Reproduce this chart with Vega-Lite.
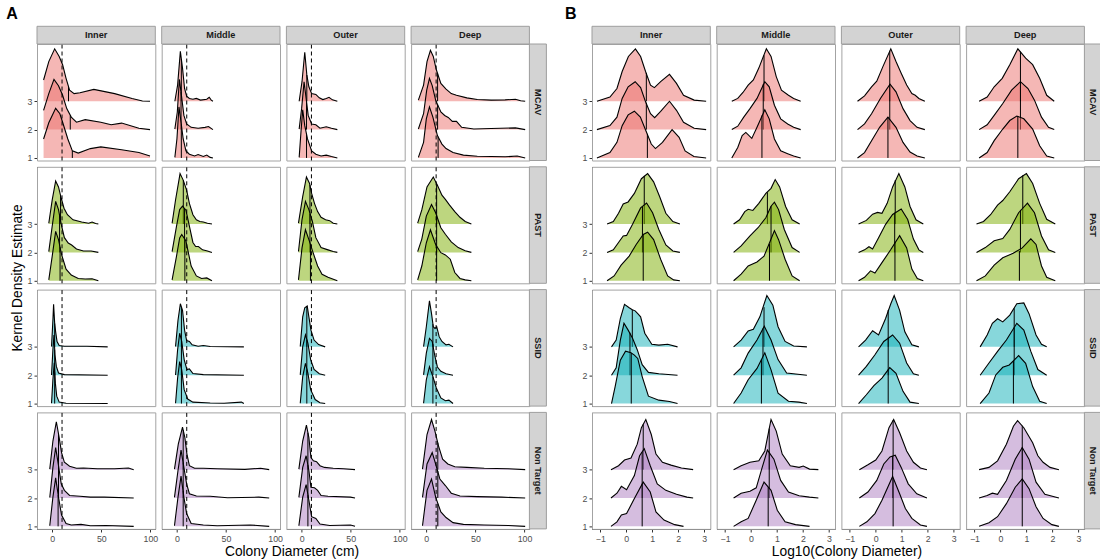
{
"$schema":"https://vega.github.io/schema/vega-lite/v6.json",
"background":"white",
"padding":{"left":6,"top":6,"right":0,"bottom":1},
"config":{"font":"Liberation Sans","mark":{"invalid":null},"view":{"stroke":"#a3a3a3","strokeWidth":1},
"axis":{"grid":false,"domainColor":"#000","domainWidth":1,"tickColor":"#333","tickSize":3,"labelFontSize":8.8,"labelColor":"#4d4d4d","labelPadding":2,"labelFlush":false,"labelOverlap":false,"title":null},
"header":{"labels":false,"titleFontSize":13.8,"titleFontWeight":"normal","titleColor":"#000","titleFont":"Liberation Sans","labelPadding":0}},
"datasets":{
"a":[
{"r":1,"c":1,"g":3,"x":-8.8,"t":3.75},{"r":1,"c":1,"g":3,"x":-3.5,"t":4.4},{"r":1,"c":1,"g":3,"x":2.5,"t":4.85},{"r":1,"c":1,"g":3,"x":7.1,"t":4.58},{"r":1,"c":1,"g":3,"x":10.6,"t":4.29},{"r":1,"c":1,"g":3,"x":14.1,"t":3.81},{"r":1,"c":1,"g":3,"x":17.7,"t":3.39},{"r":1,"c":1,"g":3,"x":22.3,"t":3.27},{"r":1,"c":1,"g":3,"x":28.3,"t":3.3},{"r":1,"c":1,"g":3,"x":42.4,"t":3.42},{"r":1,"c":1,"g":3,"x":63.6,"t":3.27},{"r":1,"c":1,"g":3,"x":81.3,"t":3.1},{"r":1,"c":1,"g":3,"x":91.9,"t":3.01},{"r":1,"c":1,"g":3,"x":99.6,"t":3},
{"r":1,"c":1,"g":3,"x":16.6,"t":3.5,"k":"m"},
{"r":1,"c":1,"g":2,"x":-8.8,"t":2.68},{"r":1,"c":1,"g":2,"x":-3.5,"t":3.27},{"r":1,"c":1,"g":2,"x":1.8,"t":3.77},{"r":1,"c":1,"g":2,"x":6.4,"t":3.55},{"r":1,"c":1,"g":2,"x":10.6,"t":3.21},{"r":1,"c":1,"g":2,"x":14.8,"t":2.74},{"r":1,"c":1,"g":2,"x":19.4,"t":2.44},{"r":1,"c":1,"g":2,"x":24.7,"t":2.26},{"r":1,"c":1,"g":2,"x":33.6,"t":2.35},{"r":1,"c":1,"g":2,"x":49.5,"t":2.26},{"r":1,"c":1,"g":2,"x":60,"t":2.17},{"r":1,"c":1,"g":2,"x":70.7,"t":2.23},{"r":1,"c":1,"g":2,"x":88.3,"t":2.05},{"r":1,"c":1,"g":2,"x":99.6,"t":2},
{"r":1,"c":1,"g":2,"x":18.4,"t":2.5,"k":"m"},
{"r":1,"c":1,"g":1,"x":-8.8,"t":1.67},{"r":1,"c":1,"g":1,"x":-3.5,"t":2.24},{"r":1,"c":1,"g":1,"x":3.5,"t":2.75},{"r":1,"c":1,"g":1,"x":7.8,"t":2.56},{"r":1,"c":1,"g":1,"x":10.6,"t":2.26},{"r":1,"c":1,"g":1,"x":15.9,"t":1.67},{"r":1,"c":1,"g":1,"x":20.5,"t":1.25},{"r":1,"c":1,"g":1,"x":26.5,"t":1.17},{"r":1,"c":1,"g":1,"x":38.9,"t":1.33},{"r":1,"c":1,"g":1,"x":49.5,"t":1.39},{"r":1,"c":1,"g":1,"x":70.7,"t":1.29},{"r":1,"c":1,"g":1,"x":88.3,"t":1.19},{"r":1,"c":1,"g":1,"x":99.6,"t":1.07},
{"r":1,"c":1,"g":1,"x":20.5,"t":1.25,"k":"m"},
{"r":1,"c":2,"g":3,"x":-2.1,"t":3},{"r":1,"c":2,"g":3,"x":0.7,"t":3.57},{"r":1,"c":2,"g":3,"x":3.5,"t":4.76},{"r":1,"c":2,"g":3,"x":5.7,"t":4.17},{"r":1,"c":2,"g":3,"x":7.8,"t":3.45},{"r":1,"c":2,"g":3,"x":9.9,"t":3.18},{"r":1,"c":2,"g":3,"x":12.7,"t":3.1},{"r":1,"c":2,"g":3,"x":16.3,"t":3.07},{"r":1,"c":2,"g":3,"x":19.8,"t":3.1},{"r":1,"c":2,"g":3,"x":24,"t":3.04},{"r":1,"c":2,"g":3,"x":30.4,"t":3.07},{"r":1,"c":2,"g":3,"x":32.9,"t":3.14},{"r":1,"c":2,"g":3,"x":35,"t":3.04},{"r":1,"c":2,"g":3,"x":36.7,"t":3},
{"r":1,"c":2,"g":3,"x":4.5,"t":4.49,"k":"m"},
{"r":1,"c":2,"g":2,"x":-2.1,"t":2.02},{"r":1,"c":2,"g":2,"x":0.4,"t":2.62},{"r":1,"c":2,"g":2,"x":2.5,"t":3.77},{"r":1,"c":2,"g":2,"x":4.6,"t":3.21},{"r":1,"c":2,"g":2,"x":7.1,"t":2.5},{"r":1,"c":2,"g":2,"x":9.9,"t":2.2},{"r":1,"c":2,"g":2,"x":14.5,"t":2.08},{"r":1,"c":2,"g":2,"x":21.6,"t":2.05},{"r":1,"c":2,"g":2,"x":28.6,"t":2.08},{"r":1,"c":2,"g":2,"x":32.2,"t":2.11},{"r":1,"c":2,"g":2,"x":36.7,"t":2},
{"r":1,"c":2,"g":2,"x":4.2,"t":3.32,"k":"m"},
{"r":1,"c":2,"g":1,"x":-2.1,"t":1.02},{"r":1,"c":2,"g":1,"x":0,"t":1.67},{"r":1,"c":2,"g":1,"x":2.1,"t":2.8},{"r":1,"c":2,"g":1,"x":4.2,"t":2.26},{"r":1,"c":2,"g":1,"x":6.4,"t":1.67},{"r":1,"c":2,"g":1,"x":9.2,"t":1.25},{"r":1,"c":2,"g":1,"x":12.7,"t":1.13},{"r":1,"c":2,"g":1,"x":18,"t":1.07},{"r":1,"c":2,"g":1,"x":21.6,"t":1.12},{"r":1,"c":2,"g":1,"x":26.9,"t":1.05},{"r":1,"c":2,"g":1,"x":30.4,"t":1.1},{"r":1,"c":2,"g":1,"x":33.9,"t":1.02},{"r":1,"c":2,"g":1,"x":36.7,"t":1},
{"r":1,"c":2,"g":1,"x":4.5,"t":2.18,"k":"m"},
{"r":1,"c":3,"g":3,"x":-2.5,"t":3},{"r":1,"c":3,"g":3,"x":0.4,"t":3.69},{"r":1,"c":3,"g":3,"x":3.2,"t":4.73},{"r":1,"c":3,"g":3,"x":5.3,"t":3.93},{"r":1,"c":3,"g":3,"x":7.4,"t":3.51},{"r":1,"c":3,"g":3,"x":10.2,"t":3.27},{"r":1,"c":3,"g":3,"x":14.5,"t":3.24},{"r":1,"c":3,"g":3,"x":18,"t":3.12},{"r":1,"c":3,"g":3,"x":21.6,"t":3.06},{"r":1,"c":3,"g":3,"x":25.1,"t":3.1},{"r":1,"c":3,"g":3,"x":27.9,"t":3.14},{"r":1,"c":3,"g":3,"x":31.4,"t":3.05},{"r":1,"c":3,"g":3,"x":36.4,"t":3},
{"r":1,"c":3,"g":3,"x":5.3,"t":3.93,"k":"m"},
{"r":1,"c":3,"g":2,"x":-2.5,"t":2.02},{"r":1,"c":3,"g":2,"x":0,"t":2.74},{"r":1,"c":3,"g":2,"x":2.5,"t":3.69},{"r":1,"c":3,"g":2,"x":4.6,"t":3.1},{"r":1,"c":3,"g":2,"x":6.7,"t":2.5},{"r":1,"c":3,"g":2,"x":10.2,"t":2.2},{"r":1,"c":3,"g":2,"x":14.5,"t":2.17},{"r":1,"c":3,"g":2,"x":18.7,"t":2.05},{"r":1,"c":3,"g":2,"x":25.1,"t":2.1},{"r":1,"c":3,"g":2,"x":30.4,"t":2.05},{"r":1,"c":3,"g":2,"x":36.4,"t":2},
{"r":1,"c":3,"g":2,"x":5,"t":2.97,"k":"m"},
{"r":1,"c":3,"g":1,"x":-2.5,"t":1.02},{"r":1,"c":3,"g":1,"x":-0.7,"t":1.9},{"r":1,"c":3,"g":1,"x":1.1,"t":2.7},{"r":1,"c":3,"g":1,"x":3.2,"t":2.14},{"r":1,"c":3,"g":1,"x":6,"t":1.67},{"r":1,"c":3,"g":1,"x":10.2,"t":1.25},{"r":1,"c":3,"g":1,"x":14.5,"t":1.13},{"r":1,"c":3,"g":1,"x":19.8,"t":1.07},{"r":1,"c":3,"g":1,"x":25.1,"t":1.1},{"r":1,"c":3,"g":1,"x":30.4,"t":1.05},{"r":1,"c":3,"g":1,"x":36.4,"t":1},
{"r":1,"c":3,"g":1,"x":5,"t":1.84,"k":"m"},
{"r":1,"c":4,"g":3,"x":-8.1,"t":3.04},{"r":1,"c":4,"g":3,"x":-2.8,"t":3.57},{"r":1,"c":4,"g":3,"x":0.7,"t":4.4},{"r":1,"c":4,"g":3,"x":4.2,"t":4.8},{"r":1,"c":4,"g":3,"x":7.1,"t":4.58},{"r":1,"c":4,"g":3,"x":10.2,"t":4.11},{"r":1,"c":4,"g":3,"x":14.8,"t":3.63},{"r":1,"c":4,"g":3,"x":20.1,"t":3.43},{"r":1,"c":4,"g":3,"x":25.4,"t":3.27},{"r":1,"c":4,"g":3,"x":30.7,"t":3.21},{"r":1,"c":4,"g":3,"x":41.3,"t":3.12},{"r":1,"c":4,"g":3,"x":51.9,"t":3.06},{"r":1,"c":4,"g":3,"x":66.1,"t":3.04},{"r":1,"c":4,"g":3,"x":80.2,"t":3.05},{"r":1,"c":4,"g":3,"x":90.8,"t":3.07},{"r":1,"c":4,"g":3,"x":96.1,"t":3.02},{"r":1,"c":4,"g":3,"x":100.7,"t":3},
{"r":1,"c":4,"g":3,"x":11.5,"t":3.98,"k":"m"},
{"r":1,"c":4,"g":2,"x":-8.1,"t":2.02},{"r":1,"c":4,"g":2,"x":-2.8,"t":2.56},{"r":1,"c":4,"g":2,"x":0.4,"t":3.39},{"r":1,"c":4,"g":2,"x":3.2,"t":3.81},{"r":1,"c":4,"g":2,"x":6,"t":3.55},{"r":1,"c":4,"g":2,"x":9.5,"t":3.04},{"r":1,"c":4,"g":2,"x":14.8,"t":2.62},{"r":1,"c":4,"g":2,"x":18.7,"t":2.5},{"r":1,"c":4,"g":2,"x":22.3,"t":2.43},{"r":1,"c":4,"g":2,"x":26.5,"t":2.29},{"r":1,"c":4,"g":2,"x":30.7,"t":2.29},{"r":1,"c":4,"g":2,"x":36,"t":2.08},{"r":1,"c":4,"g":2,"x":48.4,"t":2.02},{"r":1,"c":4,"g":2,"x":66.1,"t":2.04},{"r":1,"c":4,"g":2,"x":90.8,"t":2.06},{"r":1,"c":4,"g":2,"x":100.7,"t":2},
{"r":1,"c":4,"g":2,"x":11.5,"t":2.88,"k":"m"},
{"r":1,"c":4,"g":1,"x":-8.1,"t":1.02},{"r":1,"c":4,"g":1,"x":-2.8,"t":1.55},{"r":1,"c":4,"g":1,"x":0,"t":2.38},{"r":1,"c":4,"g":1,"x":3.2,"t":2.8},{"r":1,"c":4,"g":1,"x":6.7,"t":2.44},{"r":1,"c":4,"g":1,"x":11.3,"t":1.79},{"r":1,"c":4,"g":1,"x":15.9,"t":1.49},{"r":1,"c":4,"g":1,"x":20.1,"t":1.33},{"r":1,"c":4,"g":1,"x":27.2,"t":1.19},{"r":1,"c":4,"g":1,"x":37.8,"t":1.1},{"r":1,"c":4,"g":1,"x":51.9,"t":1.06},{"r":1,"c":4,"g":1,"x":66.1,"t":1.05},{"r":1,"c":4,"g":1,"x":80.2,"t":1.04},{"r":1,"c":4,"g":1,"x":92.6,"t":1.07},{"r":1,"c":4,"g":1,"x":100.7,"t":1},
{"r":1,"c":4,"g":1,"x":12,"t":1.75,"k":"m"},
{"r":2,"c":1,"g":3,"x":-3.5,"t":3.03},{"r":2,"c":1,"g":3,"x":0,"t":3.85},{"r":2,"c":1,"g":3,"x":3.5,"t":4.52},{"r":2,"c":1,"g":3,"x":6.4,"t":4.31},{"r":2,"c":1,"g":3,"x":9.2,"t":3.91},{"r":2,"c":1,"g":3,"x":12,"t":3.56},{"r":2,"c":1,"g":3,"x":15.5,"t":3.33},{"r":2,"c":1,"g":3,"x":21.2,"t":3.15},{"r":2,"c":1,"g":3,"x":30,"t":3.07},{"r":2,"c":1,"g":3,"x":37.1,"t":3.03},{"r":2,"c":1,"g":3,"x":40.6,"t":3.07},{"r":2,"c":1,"g":3,"x":44.2,"t":3.02},{"r":2,"c":1,"g":3,"x":47,"t":3},
{"r":2,"c":1,"g":3,"x":8.5,"t":4.0,"k":"m"},
{"r":2,"c":1,"g":2,"x":-3.5,"t":2.03},{"r":2,"c":1,"g":2,"x":0,"t":2.93},{"r":2,"c":1,"g":2,"x":3.5,"t":3.8},{"r":2,"c":1,"g":2,"x":6.4,"t":3.51},{"r":2,"c":1,"g":2,"x":9.2,"t":2.99},{"r":2,"c":1,"g":2,"x":12.4,"t":2.52},{"r":2,"c":1,"g":2,"x":16.3,"t":2.33},{"r":2,"c":1,"g":2,"x":19.8,"t":2.26},{"r":2,"c":1,"g":2,"x":24.7,"t":2.12},{"r":2,"c":1,"g":2,"x":31.8,"t":2.05},{"r":2,"c":1,"g":2,"x":39.6,"t":2.05},{"r":2,"c":1,"g":2,"x":47,"t":2},
{"r":2,"c":1,"g":2,"x":7.5,"t":3.3,"k":"m"},
{"r":2,"c":1,"g":1,"x":-3.5,"t":1.03},{"r":2,"c":1,"g":1,"x":0,"t":1.87},{"r":2,"c":1,"g":1,"x":3.5,"t":2.74},{"r":2,"c":1,"g":1,"x":6.4,"t":2.45},{"r":2,"c":1,"g":1,"x":9.5,"t":1.93},{"r":2,"c":1,"g":1,"x":14.1,"t":1.41},{"r":2,"c":1,"g":1,"x":19.4,"t":1.2},{"r":2,"c":1,"g":1,"x":26.5,"t":1.08},{"r":2,"c":1,"g":1,"x":33.6,"t":1.06},{"r":2,"c":1,"g":1,"x":40.6,"t":1.07},{"r":2,"c":1,"g":1,"x":47,"t":1},
{"r":2,"c":1,"g":1,"x":8,"t":2.18,"k":"m"},
{"r":2,"c":2,"g":3,"x":-4.9,"t":3.03},{"r":2,"c":2,"g":3,"x":-1.4,"t":3.85},{"r":2,"c":2,"g":3,"x":3.2,"t":4.78},{"r":2,"c":2,"g":3,"x":6.4,"t":4.55},{"r":2,"c":2,"g":3,"x":9.9,"t":4.2},{"r":2,"c":2,"g":3,"x":12.7,"t":3.73},{"r":2,"c":2,"g":3,"x":16.3,"t":3.33},{"r":2,"c":2,"g":3,"x":19.8,"t":3.15},{"r":2,"c":2,"g":3,"x":23.3,"t":3.09},{"r":2,"c":2,"g":3,"x":26.9,"t":3.07},{"r":2,"c":2,"g":3,"x":31.1,"t":3.03},{"r":2,"c":2,"g":3,"x":35.7,"t":3},
{"r":2,"c":2,"g":3,"x":6.5,"t":4.54,"k":"m"},
{"r":2,"c":2,"g":2,"x":-4.9,"t":2.03},{"r":2,"c":2,"g":2,"x":-0.4,"t":2.93},{"r":2,"c":2,"g":2,"x":2.8,"t":3.51},{"r":2,"c":2,"g":2,"x":5.7,"t":3.63},{"r":2,"c":2,"g":2,"x":9.2,"t":3.49},{"r":2,"c":2,"g":2,"x":12.7,"t":2.93},{"r":2,"c":2,"g":2,"x":16.3,"t":2.35},{"r":2,"c":2,"g":2,"x":19.1,"t":2.21},{"r":2,"c":2,"g":2,"x":21.9,"t":2.21},{"r":2,"c":2,"g":2,"x":26.1,"t":2.09},{"r":2,"c":2,"g":2,"x":31.1,"t":2.05},{"r":2,"c":2,"g":2,"x":35.7,"t":2},
{"r":2,"c":2,"g":2,"x":7.8,"t":3.55,"k":"m"},
{"r":2,"c":2,"g":1,"x":-4.9,"t":1.03},{"r":2,"c":2,"g":1,"x":-0.4,"t":1.87},{"r":2,"c":2,"g":1,"x":2.8,"t":2.51},{"r":2,"c":2,"g":1,"x":4.9,"t":2.63},{"r":2,"c":2,"g":1,"x":9.2,"t":2.4},{"r":2,"c":2,"g":1,"x":14.5,"t":1.52},{"r":2,"c":2,"g":1,"x":19.8,"t":1.17},{"r":2,"c":2,"g":1,"x":25.1,"t":1.08},{"r":2,"c":2,"g":1,"x":30.4,"t":1.1},{"r":2,"c":2,"g":1,"x":35.7,"t":1},
{"r":2,"c":2,"g":1,"x":8.1,"t":2.45,"k":"m"},
{"r":2,"c":3,"g":3,"x":-3.2,"t":3.03},{"r":2,"c":3,"g":3,"x":1.1,"t":3.97},{"r":2,"c":3,"g":3,"x":4.9,"t":4.66},{"r":2,"c":3,"g":3,"x":8.1,"t":4.43},{"r":2,"c":3,"g":3,"x":10.2,"t":4.08},{"r":2,"c":3,"g":3,"x":13.1,"t":3.73},{"r":2,"c":3,"g":3,"x":16.3,"t":3.44},{"r":2,"c":3,"g":3,"x":19.8,"t":3.24},{"r":2,"c":3,"g":3,"x":24.4,"t":3.15},{"r":2,"c":3,"g":3,"x":28.6,"t":3.12},{"r":2,"c":3,"g":3,"x":32.2,"t":3.03},{"r":2,"c":3,"g":3,"x":36.4,"t":3},
{"r":2,"c":3,"g":3,"x":8.5,"t":4.38,"k":"m"},
{"r":2,"c":3,"g":2,"x":-3.2,"t":2.03},{"r":2,"c":3,"g":2,"x":0.4,"t":3.16},{"r":2,"c":3,"g":2,"x":3.9,"t":3.8},{"r":2,"c":3,"g":2,"x":7.4,"t":3.51},{"r":2,"c":3,"g":2,"x":10.9,"t":3.1},{"r":2,"c":3,"g":2,"x":14.5,"t":2.52},{"r":2,"c":3,"g":2,"x":19.8,"t":2.17},{"r":2,"c":3,"g":2,"x":26.9,"t":2.09},{"r":2,"c":3,"g":2,"x":32.2,"t":2.03},{"r":2,"c":3,"g":2,"x":36.4,"t":2},
{"r":2,"c":3,"g":2,"x":8.5,"t":3.35,"k":"m"},
{"r":2,"c":3,"g":1,"x":-3.2,"t":1.03},{"r":2,"c":3,"g":1,"x":0.4,"t":2.16},{"r":2,"c":3,"g":1,"x":3.9,"t":2.8},{"r":2,"c":3,"g":1,"x":7.4,"t":2.45},{"r":2,"c":3,"g":1,"x":11.7,"t":1.99},{"r":2,"c":3,"g":1,"x":16.3,"t":1.52},{"r":2,"c":3,"g":1,"x":20.8,"t":1.23},{"r":2,"c":3,"g":1,"x":26.9,"t":1.12},{"r":2,"c":3,"g":1,"x":36.4,"t":1},
{"r":2,"c":3,"g":1,"x":9,"t":2.3,"k":"m"},
{"r":2,"c":4,"g":3,"x":-8.8,"t":3.03},{"r":2,"c":4,"g":3,"x":-4.6,"t":3.5},{"r":2,"c":4,"g":3,"x":0.7,"t":4.31},{"r":2,"c":4,"g":3,"x":7.1,"t":4.66},{"r":2,"c":4,"g":3,"x":11.3,"t":4.37},{"r":2,"c":4,"g":3,"x":15.9,"t":4.02},{"r":2,"c":4,"g":3,"x":19.4,"t":3.87},{"r":2,"c":4,"g":3,"x":23.7,"t":3.67},{"r":2,"c":4,"g":3,"x":29,"t":3.44},{"r":2,"c":4,"g":3,"x":34.3,"t":3.24},{"r":2,"c":4,"g":3,"x":39.6,"t":3.09},{"r":2,"c":4,"g":3,"x":45.9,"t":3},
{"r":2,"c":4,"g":3,"x":10.5,"t":4.42,"k":"m"},
{"r":2,"c":4,"g":2,"x":-8.8,"t":2.03},{"r":2,"c":4,"g":2,"x":-4.6,"t":2.47},{"r":2,"c":4,"g":2,"x":0,"t":3.28},{"r":2,"c":4,"g":2,"x":5.3,"t":3.69},{"r":2,"c":4,"g":2,"x":9.5,"t":3.4},{"r":2,"c":4,"g":2,"x":14.8,"t":2.87},{"r":2,"c":4,"g":2,"x":19.4,"t":2.64},{"r":2,"c":4,"g":2,"x":25.4,"t":2.37},{"r":2,"c":4,"g":2,"x":32.5,"t":2.17},{"r":2,"c":4,"g":2,"x":39.6,"t":2.06},{"r":2,"c":4,"g":2,"x":45.9,"t":2},
{"r":2,"c":4,"g":2,"x":10.5,"t":3.3,"k":"m"},
{"r":2,"c":4,"g":1,"x":-8.8,"t":1.03},{"r":2,"c":4,"g":1,"x":-4.6,"t":1.52},{"r":2,"c":4,"g":1,"x":0,"t":2.34},{"r":2,"c":4,"g":1,"x":4.2,"t":2.8},{"r":2,"c":4,"g":1,"x":9.5,"t":2.28},{"r":2,"c":4,"g":1,"x":14.8,"t":1.99},{"r":2,"c":4,"g":1,"x":19.4,"t":1.91},{"r":2,"c":4,"g":1,"x":24.4,"t":1.76},{"r":2,"c":4,"g":1,"x":29,"t":1.29},{"r":2,"c":4,"g":1,"x":34.3,"t":1.08},{"r":2,"c":4,"g":1,"x":39.6,"t":1.03},{"r":2,"c":4,"g":1,"x":45.9,"t":1},
{"r":2,"c":4,"g":1,"x":10.5,"t":2.2,"k":"m"},
{"r":3,"c":1,"g":3,"x":-0.7,"t":3.01},{"r":3,"c":1,"g":3,"x":0.7,"t":3.94},{"r":3,"c":1,"g":3,"x":1.4,"t":4.5},{"r":3,"c":1,"g":3,"x":2.5,"t":3.83},{"r":3,"c":1,"g":3,"x":3.5,"t":3.53},{"r":3,"c":1,"g":3,"x":4.9,"t":3.19},{"r":3,"c":1,"g":3,"x":7.1,"t":3.05},{"r":3,"c":1,"g":3,"x":12.4,"t":3.02},{"r":3,"c":1,"g":3,"x":35.3,"t":3.02},{"r":3,"c":1,"g":3,"x":56.5,"t":3},
{"r":3,"c":1,"g":3,"x":2.5,"t":3.83,"k":"m"},
{"r":3,"c":1,"g":2,"x":-0.7,"t":2.01},{"r":3,"c":1,"g":2,"x":0.7,"t":2.9},{"r":3,"c":1,"g":2,"x":1.8,"t":3.42},{"r":3,"c":1,"g":2,"x":2.8,"t":2.72},{"r":3,"c":1,"g":2,"x":4.2,"t":2.31},{"r":3,"c":1,"g":2,"x":6.4,"t":2.08},{"r":3,"c":1,"g":2,"x":12.4,"t":2.02},{"r":3,"c":1,"g":2,"x":56.5,"t":2},
{"r":3,"c":1,"g":2,"x":2.5,"t":2.9,"k":"m"},
{"r":3,"c":1,"g":1,"x":-0.7,"t":1.01},{"r":3,"c":1,"g":1,"x":0.7,"t":1.84},{"r":3,"c":1,"g":1,"x":2.1,"t":2.44},{"r":3,"c":1,"g":1,"x":3.2,"t":1.72},{"r":3,"c":1,"g":1,"x":4.6,"t":1.26},{"r":3,"c":1,"g":1,"x":7.1,"t":1.05},{"r":3,"c":1,"g":1,"x":14.1,"t":1.01},{"r":3,"c":1,"g":1,"x":56.5,"t":1},
{"r":3,"c":1,"g":1,"x":2.5,"t":2.1,"k":"m"},
{"r":3,"c":2,"g":3,"x":-1.4,"t":3.01},{"r":3,"c":2,"g":3,"x":1.1,"t":3.94},{"r":3,"c":2,"g":3,"x":3.5,"t":4.52},{"r":3,"c":2,"g":3,"x":5.7,"t":4.29},{"r":3,"c":2,"g":3,"x":7.8,"t":3.59},{"r":3,"c":2,"g":3,"x":9.9,"t":3.22},{"r":3,"c":2,"g":3,"x":12.7,"t":3.19},{"r":3,"c":2,"g":3,"x":15.5,"t":3.07},{"r":3,"c":2,"g":3,"x":21.6,"t":3.02},{"r":3,"c":2,"g":3,"x":26.9,"t":3.05},{"r":3,"c":2,"g":3,"x":33.9,"t":3.01},{"r":3,"c":2,"g":3,"x":68.2,"t":3},
{"r":3,"c":2,"g":3,"x":4.6,"t":4.4,"k":"m"},
{"r":3,"c":2,"g":2,"x":-1.4,"t":2.01},{"r":3,"c":2,"g":2,"x":0.7,"t":2.9},{"r":3,"c":2,"g":2,"x":2.8,"t":3.48},{"r":3,"c":2,"g":2,"x":4.9,"t":3.19},{"r":3,"c":2,"g":2,"x":7.4,"t":2.55},{"r":3,"c":2,"g":2,"x":10.2,"t":2.2},{"r":3,"c":2,"g":2,"x":12.7,"t":2.22},{"r":3,"c":2,"g":2,"x":16.3,"t":2.06},{"r":3,"c":2,"g":2,"x":26.9,"t":2.02},{"r":3,"c":2,"g":2,"x":68.2,"t":2},
{"r":3,"c":2,"g":2,"x":4.6,"t":3.23,"k":"m"},
{"r":3,"c":2,"g":1,"x":-1.4,"t":1.01},{"r":3,"c":2,"g":1,"x":0.7,"t":1.9},{"r":3,"c":2,"g":1,"x":2.8,"t":2.48},{"r":3,"c":2,"g":1,"x":4.9,"t":2.19},{"r":3,"c":2,"g":1,"x":7.4,"t":1.49},{"r":3,"c":2,"g":1,"x":11,"t":1.16},{"r":3,"c":2,"g":1,"x":16.3,"t":1.05},{"r":3,"c":2,"g":1,"x":33.9,"t":1.02},{"r":3,"c":2,"g":1,"x":48,"t":1.01},{"r":3,"c":2,"g":1,"x":65.7,"t":1.05},{"r":3,"c":2,"g":1,"x":68.2,"t":1},
{"r":3,"c":2,"g":1,"x":4.6,"t":2.22,"k":"m"},
{"r":3,"c":3,"g":3,"x":-1.4,"t":3.01},{"r":3,"c":3,"g":3,"x":1.1,"t":4.06},{"r":3,"c":3,"g":3,"x":3.2,"t":4.38},{"r":3,"c":3,"g":3,"x":5.7,"t":4.44},{"r":3,"c":3,"g":3,"x":7.4,"t":4.06},{"r":3,"c":3,"g":3,"x":9.5,"t":3.59},{"r":3,"c":3,"g":3,"x":12.7,"t":3.24},{"r":3,"c":3,"g":3,"x":17.3,"t":3.08},{"r":3,"c":3,"g":3,"x":24,"t":3},
{"r":3,"c":3,"g":3,"x":5.3,"t":4.44,"k":"m"},
{"r":3,"c":3,"g":2,"x":-1.4,"t":2.01},{"r":3,"c":3,"g":2,"x":1.1,"t":3.01},{"r":3,"c":3,"g":2,"x":3.9,"t":3.42},{"r":3,"c":3,"g":2,"x":6.4,"t":3.13},{"r":3,"c":3,"g":2,"x":9.2,"t":2.55},{"r":3,"c":3,"g":2,"x":12.7,"t":2.2},{"r":3,"c":3,"g":2,"x":18,"t":2.05},{"r":3,"c":3,"g":2,"x":24,"t":2},
{"r":3,"c":3,"g":2,"x":5.3,"t":3.25,"k":"m"},
{"r":3,"c":3,"g":1,"x":-1.4,"t":1.01},{"r":3,"c":3,"g":1,"x":1.1,"t":1.95},{"r":3,"c":3,"g":1,"x":3.9,"t":2.42},{"r":3,"c":3,"g":1,"x":6.4,"t":2.07},{"r":3,"c":3,"g":1,"x":9.2,"t":1.49},{"r":3,"c":3,"g":1,"x":13.8,"t":1.14},{"r":3,"c":3,"g":1,"x":18.7,"t":1.03},{"r":3,"c":3,"g":1,"x":24,"t":1},
{"r":3,"c":3,"g":1,"x":5.3,"t":2.2,"k":"m"},
{"r":3,"c":4,"g":3,"x":-2.8,"t":3.01},{"r":3,"c":4,"g":3,"x":0,"t":3.71},{"r":3,"c":4,"g":3,"x":3.2,"t":4.62},{"r":3,"c":4,"g":3,"x":5.3,"t":4.17},{"r":3,"c":4,"g":3,"x":7.1,"t":3.71},{"r":3,"c":4,"g":3,"x":8.8,"t":3.65},{"r":3,"c":4,"g":3,"x":10.6,"t":3.71},{"r":3,"c":4,"g":3,"x":13.1,"t":3.36},{"r":3,"c":4,"g":3,"x":15.9,"t":3.19},{"r":3,"c":4,"g":3,"x":20.1,"t":3.07},{"r":3,"c":4,"g":3,"x":23,"t":3.09},{"r":3,"c":4,"g":3,"x":27.2,"t":3},
{"r":3,"c":4,"g":3,"x":6.7,"t":3.8,"k":"m"},
{"r":3,"c":4,"g":2,"x":-2.8,"t":2.01},{"r":3,"c":4,"g":2,"x":0,"t":2.78},{"r":3,"c":4,"g":2,"x":3.2,"t":3.3},{"r":3,"c":4,"g":2,"x":6,"t":3.19},{"r":3,"c":4,"g":2,"x":8.8,"t":2.66},{"r":3,"c":4,"g":2,"x":11.3,"t":2.29},{"r":3,"c":4,"g":2,"x":14.8,"t":2.14},{"r":3,"c":4,"g":2,"x":20.1,"t":2.05},{"r":3,"c":4,"g":2,"x":27.2,"t":2},
{"r":3,"c":4,"g":2,"x":6.7,"t":3.1,"k":"m"},
{"r":3,"c":4,"g":1,"x":-2.8,"t":1.01},{"r":3,"c":4,"g":1,"x":0,"t":1.84},{"r":3,"c":4,"g":1,"x":3.2,"t":2.3},{"r":3,"c":4,"g":1,"x":6.7,"t":1.95},{"r":3,"c":4,"g":1,"x":10.2,"t":1.55},{"r":3,"c":4,"g":1,"x":14.8,"t":1.2},{"r":3,"c":4,"g":1,"x":19.4,"t":1.1},{"r":3,"c":4,"g":1,"x":23,"t":1.12},{"r":3,"c":4,"g":1,"x":27.2,"t":1},
{"r":3,"c":4,"g":1,"x":6.7,"t":1.95,"k":"m"},
{"r":4,"c":1,"g":3,"x":-2.5,"t":3.02},{"r":4,"c":1,"g":3,"x":0.7,"t":4.01},{"r":4,"c":1,"g":3,"x":4.2,"t":4.69},{"r":4,"c":1,"g":3,"x":7.1,"t":4.13},{"r":4,"c":1,"g":3,"x":9.5,"t":3.6},{"r":4,"c":1,"g":3,"x":12.4,"t":3.26},{"r":4,"c":1,"g":3,"x":17.7,"t":3.12},{"r":4,"c":1,"g":3,"x":24.7,"t":3.05},{"r":4,"c":1,"g":3,"x":31.8,"t":3.06},{"r":4,"c":1,"g":3,"x":45.9,"t":3.03},{"r":4,"c":1,"g":3,"x":63.6,"t":3.03},{"r":4,"c":1,"g":3,"x":77.7,"t":3.06},{"r":4,"c":1,"g":3,"x":83,"t":3},
{"r":4,"c":1,"g":3,"x":6.4,"t":4.26,"k":"m"},
{"r":4,"c":1,"g":2,"x":-2.5,"t":2.02},{"r":4,"c":1,"g":2,"x":0.7,"t":3.08},{"r":4,"c":1,"g":2,"x":3.5,"t":3.78},{"r":4,"c":1,"g":2,"x":6.4,"t":3.14},{"r":4,"c":1,"g":2,"x":9.2,"t":2.5},{"r":4,"c":1,"g":2,"x":12.4,"t":2.27},{"r":4,"c":1,"g":2,"x":17.7,"t":2.09},{"r":4,"c":1,"g":2,"x":28.3,"t":2.06},{"r":4,"c":1,"g":2,"x":38.9,"t":2.03},{"r":4,"c":1,"g":2,"x":53,"t":2.03},{"r":4,"c":1,"g":2,"x":83,"t":2},
{"r":4,"c":1,"g":2,"x":6.4,"t":3.14,"k":"m"},
{"r":4,"c":1,"g":1,"x":-2.5,"t":1.02},{"r":4,"c":1,"g":1,"x":0.7,"t":2.03},{"r":4,"c":1,"g":1,"x":3.5,"t":2.71},{"r":4,"c":1,"g":1,"x":6.4,"t":2.03},{"r":4,"c":1,"g":1,"x":9.5,"t":1.4},{"r":4,"c":1,"g":1,"x":14.1,"t":1.1},{"r":4,"c":1,"g":1,"x":19.4,"t":1.05},{"r":4,"c":1,"g":1,"x":29.3,"t":1.07},{"r":4,"c":1,"g":1,"x":38.9,"t":1.02},{"r":4,"c":1,"g":1,"x":54.8,"t":1.03},{"r":4,"c":1,"g":1,"x":83,"t":1},
{"r":4,"c":1,"g":1,"x":6,"t":2.1,"k":"m"},
{"r":4,"c":2,"g":3,"x":-2.5,"t":3.02},{"r":4,"c":2,"g":3,"x":1.4,"t":3.9},{"r":4,"c":2,"g":3,"x":5.7,"t":4.5},{"r":4,"c":2,"g":3,"x":8.1,"t":4.13},{"r":4,"c":2,"g":3,"x":10.2,"t":3.55},{"r":4,"c":2,"g":3,"x":12.7,"t":3.14},{"r":4,"c":2,"g":3,"x":18,"t":3.05},{"r":4,"c":2,"g":3,"x":26.9,"t":3.05},{"r":4,"c":2,"g":3,"x":41,"t":3.03},{"r":4,"c":2,"g":3,"x":69.3,"t":3.01},{"r":4,"c":2,"g":3,"x":85.2,"t":3.05},{"r":4,"c":2,"g":3,"x":94,"t":3},
{"r":4,"c":2,"g":3,"x":6.4,"t":4.4,"k":"m"},
{"r":4,"c":2,"g":2,"x":-2.5,"t":2.02},{"r":4,"c":2,"g":2,"x":1.1,"t":2.97},{"r":4,"c":2,"g":2,"x":4.2,"t":3.69},{"r":4,"c":2,"g":2,"x":7.1,"t":3.08},{"r":4,"c":2,"g":2,"x":9.9,"t":2.5},{"r":4,"c":2,"g":2,"x":12.7,"t":2.15},{"r":4,"c":2,"g":2,"x":19.8,"t":2.07},{"r":4,"c":2,"g":2,"x":33.9,"t":2.06},{"r":4,"c":2,"g":2,"x":51.6,"t":2.01},{"r":4,"c":2,"g":2,"x":83.4,"t":2.03},{"r":4,"c":2,"g":2,"x":94,"t":2},
{"r":4,"c":2,"g":2,"x":6.4,"t":3.25,"k":"m"},
{"r":4,"c":2,"g":1,"x":-2.5,"t":1.02},{"r":4,"c":2,"g":1,"x":1.1,"t":2.03},{"r":4,"c":2,"g":1,"x":4.2,"t":2.77},{"r":4,"c":2,"g":1,"x":7.1,"t":2.03},{"r":4,"c":2,"g":1,"x":9.9,"t":1.45},{"r":4,"c":2,"g":1,"x":14.5,"t":1.1},{"r":4,"c":2,"g":1,"x":26.9,"t":1.05},{"r":4,"c":2,"g":1,"x":41,"t":1.02},{"r":4,"c":2,"g":1,"x":74.6,"t":1.05},{"r":4,"c":2,"g":1,"x":94,"t":1},
{"r":4,"c":2,"g":1,"x":6.4,"t":2.25,"k":"m"},
{"r":4,"c":3,"g":3,"x":-2.8,"t":3.02},{"r":4,"c":3,"g":3,"x":1.1,"t":4.01},{"r":4,"c":3,"g":3,"x":4.9,"t":4.57},{"r":4,"c":3,"g":3,"x":7.4,"t":4.13},{"r":4,"c":3,"g":3,"x":9.5,"t":3.43},{"r":4,"c":3,"g":3,"x":12,"t":3.31},{"r":4,"c":3,"g":3,"x":15.2,"t":3.28},{"r":4,"c":3,"g":3,"x":18.7,"t":3.14},{"r":4,"c":3,"g":3,"x":23.3,"t":3.08},{"r":4,"c":3,"g":3,"x":32.2,"t":3.05},{"r":4,"c":3,"g":3,"x":42.8,"t":3.03},{"r":4,"c":3,"g":3,"x":54.4,"t":3},
{"r":4,"c":3,"g":3,"x":6.4,"t":4.3,"k":"m"},
{"r":4,"c":3,"g":2,"x":-2.8,"t":2.02},{"r":4,"c":3,"g":2,"x":1.1,"t":3.08},{"r":4,"c":3,"g":2,"x":4.6,"t":3.49},{"r":4,"c":3,"g":2,"x":7.4,"t":2.97},{"r":4,"c":3,"g":2,"x":9.5,"t":2.38},{"r":4,"c":3,"g":2,"x":13.1,"t":2.36},{"r":4,"c":3,"g":2,"x":16.3,"t":2.27},{"r":4,"c":3,"g":2,"x":19.8,"t":2.09},{"r":4,"c":3,"g":2,"x":26.9,"t":2.06},{"r":4,"c":3,"g":2,"x":49.8,"t":2.03},{"r":4,"c":3,"g":2,"x":54.4,"t":2},
{"r":4,"c":3,"g":2,"x":6.4,"t":3.16,"k":"m"},
{"r":4,"c":3,"g":1,"x":-2.8,"t":1.02},{"r":4,"c":3,"g":1,"x":1.1,"t":2.03},{"r":4,"c":3,"g":1,"x":4.6,"t":2.47},{"r":4,"c":3,"g":1,"x":7.4,"t":1.92},{"r":4,"c":3,"g":1,"x":10.2,"t":1.34},{"r":4,"c":3,"g":1,"x":14.5,"t":1.28},{"r":4,"c":3,"g":1,"x":18.7,"t":1.08},{"r":4,"c":3,"g":1,"x":28.6,"t":1.03},{"r":4,"c":3,"g":1,"x":49.8,"t":1.05},{"r":4,"c":3,"g":1,"x":54.4,"t":1},
{"r":4,"c":3,"g":1,"x":6.4,"t":2.1,"k":"m"},
{"r":4,"c":4,"g":3,"x":-3.9,"t":3.02},{"r":4,"c":4,"g":3,"x":0.7,"t":4.24},{"r":4,"c":4,"g":3,"x":5.3,"t":4.77},{"r":4,"c":4,"g":3,"x":8.8,"t":4.36},{"r":4,"c":4,"g":3,"x":12.4,"t":3.84},{"r":4,"c":4,"g":3,"x":16.6,"t":3.37},{"r":4,"c":4,"g":3,"x":21.9,"t":3.2},{"r":4,"c":4,"g":3,"x":29,"t":3.1},{"r":4,"c":4,"g":3,"x":41.3,"t":3.08},{"r":4,"c":4,"g":3,"x":59,"t":3.05},{"r":4,"c":4,"g":3,"x":83.7,"t":3.03},{"r":4,"c":4,"g":3,"x":100.7,"t":3},
{"r":4,"c":4,"g":3,"x":11.7,"t":3.95,"k":"m"},
{"r":4,"c":4,"g":2,"x":-3.9,"t":2.02},{"r":4,"c":4,"g":2,"x":0.7,"t":3.2},{"r":4,"c":4,"g":2,"x":6,"t":3.6},{"r":4,"c":4,"g":2,"x":9.5,"t":3.2},{"r":4,"c":4,"g":2,"x":13.8,"t":2.67},{"r":4,"c":4,"g":2,"x":19.4,"t":2.44},{"r":4,"c":4,"g":2,"x":25.4,"t":2.17},{"r":4,"c":4,"g":2,"x":34.3,"t":2.07},{"r":4,"c":4,"g":2,"x":51.9,"t":2.05},{"r":4,"c":4,"g":2,"x":76.7,"t":2.03},{"r":4,"c":4,"g":2,"x":100.7,"t":2},
{"r":4,"c":4,"g":2,"x":11.7,"t":2.95,"k":"m"},
{"r":4,"c":4,"g":1,"x":-3.9,"t":1.02},{"r":4,"c":4,"g":1,"x":0.7,"t":2.27},{"r":4,"c":4,"g":1,"x":5.3,"t":2.67},{"r":4,"c":4,"g":1,"x":9.5,"t":2.03},{"r":4,"c":4,"g":1,"x":14.8,"t":1.51},{"r":4,"c":4,"g":1,"x":20.1,"t":1.31},{"r":4,"c":4,"g":1,"x":27.2,"t":1.13},{"r":4,"c":4,"g":1,"x":37.8,"t":1.07},{"r":4,"c":4,"g":1,"x":59,"t":1.05},{"r":4,"c":4,"g":1,"x":83.7,"t":1.03},{"r":4,"c":4,"g":1,"x":100.7,"t":1},
{"r":4,"c":4,"g":1,"x":11.7,"t":1.8,"k":"m"},
{"r":1,"c":1,"k":"t","l":"Inner"},{"r":1,"c":2,"k":"t","l":"Middle"},{"r":1,"c":3,"k":"t","l":"Outer"},{"r":1,"c":4,"k":"t","l":"Deep"},
{"r":1,"c":4,"k":"r","l":"MCAV"},{"r":2,"c":4,"k":"r","l":"PAST"},{"r":3,"c":4,"k":"r","l":"SSID"},{"r":4,"c":4,"k":"r","l":"Non Target"}
],
"b":[
{"r":1,"c":1,"g":3,"x":-1.13,"t":3},{"r":1,"c":1,"g":3,"x":-0.63,"t":3.15},{"r":1,"c":1,"g":3,"x":-0.36,"t":3.45},{"r":1,"c":1,"g":3,"x":-0.16,"t":4.05},{"r":1,"c":1,"g":3,"x":0.08,"t":4.58},{"r":1,"c":1,"g":3,"x":0.35,"t":4.85},{"r":1,"c":1,"g":3,"x":0.55,"t":4.58},{"r":1,"c":1,"g":3,"x":0.74,"t":4.05},{"r":1,"c":1,"g":3,"x":0.93,"t":3.57},{"r":1,"c":1,"g":3,"x":1.08,"t":3.48},{"r":1,"c":1,"g":3,"x":1.32,"t":3.69},{"r":1,"c":1,"g":3,"x":1.66,"t":3.95},{"r":1,"c":1,"g":3,"x":1.93,"t":3.63},{"r":1,"c":1,"g":3,"x":2.2,"t":3.21},{"r":1,"c":1,"g":3,"x":2.61,"t":3.04},{"r":1,"c":1,"g":3,"x":3.07,"t":3},
{"r":1,"c":1,"g":3,"x":0.77,"t":4.0,"k":"m"},
{"r":1,"c":1,"g":2,"x":-1.13,"t":2},{"r":1,"c":1,"g":2,"x":-0.63,"t":2.14},{"r":1,"c":1,"g":2,"x":-0.36,"t":2.44},{"r":1,"c":1,"g":2,"x":-0.16,"t":3.1},{"r":1,"c":1,"g":2,"x":0.07,"t":3.51},{"r":1,"c":1,"g":2,"x":0.34,"t":3.69},{"r":1,"c":1,"g":2,"x":0.55,"t":3.48},{"r":1,"c":1,"g":2,"x":0.74,"t":2.98},{"r":1,"c":1,"g":2,"x":0.93,"t":2.56},{"r":1,"c":1,"g":2,"x":1.09,"t":2.42},{"r":1,"c":1,"g":2,"x":1.32,"t":2.64},{"r":1,"c":1,"g":2,"x":1.66,"t":3},{"r":1,"c":1,"g":2,"x":1.93,"t":2.68},{"r":1,"c":1,"g":2,"x":2.2,"t":2.26},{"r":1,"c":1,"g":2,"x":2.61,"t":2.05},{"r":1,"c":1,"g":2,"x":3.07,"t":2},
{"r":1,"c":1,"g":2,"x":0.77,"t":2.95,"k":"m"},
{"r":1,"c":1,"g":1,"x":-1.13,"t":1},{"r":1,"c":1,"g":1,"x":-0.63,"t":1.19},{"r":1,"c":1,"g":1,"x":-0.36,"t":1.55},{"r":1,"c":1,"g":1,"x":-0.16,"t":2.14},{"r":1,"c":1,"g":1,"x":0.07,"t":2.52},{"r":1,"c":1,"g":1,"x":0.31,"t":2.65},{"r":1,"c":1,"g":1,"x":0.54,"t":2.44},{"r":1,"c":1,"g":1,"x":0.78,"t":1.9},{"r":1,"c":1,"g":1,"x":0.96,"t":1.49},{"r":1,"c":1,"g":1,"x":1.12,"t":1.33},{"r":1,"c":1,"g":1,"x":1.39,"t":1.55},{"r":1,"c":1,"g":1,"x":1.76,"t":2},{"r":1,"c":1,"g":1,"x":2.03,"t":1.73},{"r":1,"c":1,"g":1,"x":2.26,"t":1.25},{"r":1,"c":1,"g":1,"x":2.6,"t":1.05},{"r":1,"c":1,"g":1,"x":3.07,"t":1},
{"r":1,"c":1,"g":1,"x":0.81,"t":1.85,"k":"m"},
{"r":1,"c":2,"g":3,"x":-0.74,"t":3},{"r":1,"c":2,"g":3,"x":-0.51,"t":3.1},{"r":1,"c":2,"g":3,"x":-0.31,"t":3.31},{"r":1,"c":2,"g":3,"x":-0.11,"t":3.57},{"r":1,"c":2,"g":3,"x":0.09,"t":3.75},{"r":1,"c":2,"g":3,"x":0.3,"t":4.17},{"r":1,"c":2,"g":3,"x":0.59,"t":4.85},{"r":1,"c":2,"g":3,"x":0.77,"t":4.58},{"r":1,"c":2,"g":3,"x":0.97,"t":3.87},{"r":1,"c":2,"g":3,"x":1.17,"t":3.39},{"r":1,"c":2,"g":3,"x":1.44,"t":3.21},{"r":1,"c":2,"g":3,"x":1.64,"t":3.1},{"r":1,"c":2,"g":3,"x":1.91,"t":3},
{"r":1,"c":2,"g":3,"x":0.5,"t":4.62,"k":"m"},
{"r":1,"c":2,"g":2,"x":-0.74,"t":2},{"r":1,"c":2,"g":2,"x":-0.51,"t":2.12},{"r":1,"c":2,"g":2,"x":-0.28,"t":2.44},{"r":1,"c":2,"g":2,"x":-0.04,"t":2.74},{"r":1,"c":2,"g":2,"x":0.23,"t":3.1},{"r":1,"c":2,"g":2,"x":0.53,"t":3.69},{"r":1,"c":2,"g":2,"x":0.7,"t":3.51},{"r":1,"c":2,"g":2,"x":0.9,"t":2.86},{"r":1,"c":2,"g":2,"x":1.14,"t":2.38},{"r":1,"c":2,"g":2,"x":1.41,"t":2.2},{"r":1,"c":2,"g":2,"x":1.64,"t":2.08},{"r":1,"c":2,"g":2,"x":1.91,"t":2},
{"r":1,"c":2,"g":2,"x":0.47,"t":3.6,"k":"m"},
{"r":1,"c":2,"g":1,"x":-0.74,"t":1},{"r":1,"c":2,"g":1,"x":-0.51,"t":1.37},{"r":1,"c":2,"g":1,"x":-0.34,"t":1.79},{"r":1,"c":2,"g":1,"x":-0.2,"t":1.9},{"r":1,"c":2,"g":1,"x":0.03,"t":1.69},{"r":1,"c":2,"g":1,"x":0.23,"t":2.08},{"r":1,"c":2,"g":1,"x":0.53,"t":2.7},{"r":1,"c":2,"g":1,"x":0.7,"t":2.38},{"r":1,"c":2,"g":1,"x":0.9,"t":1.67},{"r":1,"c":2,"g":1,"x":1.14,"t":1.25},{"r":1,"c":2,"g":1,"x":1.41,"t":1.15},{"r":1,"c":2,"g":1,"x":1.64,"t":1.07},{"r":1,"c":2,"g":1,"x":1.91,"t":1},
{"r":1,"c":2,"g":1,"x":0.42,"t":2.5,"k":"m"},
{"r":1,"c":3,"g":3,"x":-0.7,"t":3},{"r":1,"c":3,"g":3,"x":-0.43,"t":3.19},{"r":1,"c":3,"g":3,"x":-0.16,"t":3.51},{"r":1,"c":3,"g":3,"x":0.04,"t":3.71},{"r":1,"c":3,"g":3,"x":0.28,"t":4.23},{"r":1,"c":3,"g":3,"x":0.58,"t":4.85},{"r":1,"c":3,"g":3,"x":0.78,"t":4.4},{"r":1,"c":3,"g":3,"x":0.98,"t":3.99},{"r":1,"c":3,"g":3,"x":1.19,"t":3.57},{"r":1,"c":3,"g":3,"x":1.39,"t":3.27},{"r":1,"c":3,"g":3,"x":1.52,"t":3.21},{"r":1,"c":3,"g":3,"x":1.66,"t":3.1},{"r":1,"c":3,"g":3,"x":1.89,"t":3},
{"r":1,"c":3,"g":3,"x":0.54,"t":4.78,"k":"m"},
{"r":1,"c":3,"g":2,"x":-0.7,"t":2},{"r":1,"c":3,"g":2,"x":-0.43,"t":2.2},{"r":1,"c":3,"g":2,"x":-0.16,"t":2.56},{"r":1,"c":3,"g":2,"x":0.18,"t":3.1},{"r":1,"c":3,"g":2,"x":0.55,"t":3.6},{"r":1,"c":3,"g":2,"x":0.78,"t":3.33},{"r":1,"c":3,"g":2,"x":1.05,"t":2.74},{"r":1,"c":3,"g":2,"x":1.32,"t":2.32},{"r":1,"c":3,"g":2,"x":1.59,"t":2.08},{"r":1,"c":3,"g":2,"x":1.89,"t":2},
{"r":1,"c":3,"g":2,"x":0.54,"t":3.6,"k":"m"},
{"r":1,"c":3,"g":1,"x":-0.7,"t":1},{"r":1,"c":3,"g":1,"x":-0.43,"t":1.19},{"r":1,"c":3,"g":1,"x":-0.16,"t":1.61},{"r":1,"c":3,"g":1,"x":0.15,"t":2.08},{"r":1,"c":3,"g":1,"x":0.47,"t":2.44},{"r":1,"c":3,"g":1,"x":0.78,"t":2.08},{"r":1,"c":3,"g":1,"x":1.05,"t":1.55},{"r":1,"c":3,"g":1,"x":1.32,"t":1.21},{"r":1,"c":3,"g":1,"x":1.59,"t":1.07},{"r":1,"c":3,"g":1,"x":1.89,"t":1},
{"r":1,"c":3,"g":1,"x":0.47,"t":2.44,"k":"m"},
{"r":1,"c":4,"g":3,"x":-0.82,"t":3},{"r":1,"c":4,"g":3,"x":-0.51,"t":3.15},{"r":1,"c":4,"g":3,"x":-0.24,"t":3.51},{"r":1,"c":4,"g":3,"x":0.07,"t":3.81},{"r":1,"c":4,"g":3,"x":0.36,"t":4.29},{"r":1,"c":4,"g":3,"x":0.67,"t":4.85},{"r":1,"c":4,"g":3,"x":0.97,"t":4.52},{"r":1,"c":4,"g":3,"x":1.24,"t":4.29},{"r":1,"c":4,"g":3,"x":1.51,"t":3.81},{"r":1,"c":4,"g":3,"x":1.78,"t":3.21},{"r":1,"c":4,"g":3,"x":2.07,"t":3},
{"r":1,"c":4,"g":3,"x":0.77,"t":4.75,"k":"m"},
{"r":1,"c":4,"g":2,"x":-0.82,"t":2},{"r":1,"c":4,"g":2,"x":-0.51,"t":2.17},{"r":1,"c":4,"g":2,"x":-0.24,"t":2.5},{"r":1,"c":4,"g":2,"x":0.09,"t":2.92},{"r":1,"c":4,"g":2,"x":0.43,"t":3.39},{"r":1,"c":4,"g":2,"x":0.77,"t":3.69},{"r":1,"c":4,"g":2,"x":1.06,"t":3.45},{"r":1,"c":4,"g":2,"x":1.31,"t":3.04},{"r":1,"c":4,"g":2,"x":1.58,"t":2.44},{"r":1,"c":4,"g":2,"x":1.85,"t":2.08},{"r":1,"c":4,"g":2,"x":2.07,"t":2},
{"r":1,"c":4,"g":2,"x":0.77,"t":3.69,"k":"m"},
{"r":1,"c":4,"g":1,"x":-0.82,"t":1},{"r":1,"c":4,"g":1,"x":-0.51,"t":1.19},{"r":1,"c":4,"g":1,"x":-0.24,"t":1.61},{"r":1,"c":4,"g":1,"x":0.09,"t":2.02},{"r":1,"c":4,"g":1,"x":0.36,"t":2.32},{"r":1,"c":4,"g":1,"x":0.63,"t":2.48},{"r":1,"c":4,"g":1,"x":0.9,"t":2.38},{"r":1,"c":4,"g":1,"x":1.24,"t":2.02},{"r":1,"c":4,"g":1,"x":1.51,"t":1.43},{"r":1,"c":4,"g":1,"x":1.78,"t":1.07},{"r":1,"c":4,"g":1,"x":2.07,"t":1},
{"r":1,"c":4,"g":1,"x":0.67,"t":2.48,"k":"m"},
{"r":2,"c":1,"g":3,"x":-0.74,"t":3},{"r":2,"c":1,"g":3,"x":-0.5,"t":3.09},{"r":2,"c":1,"g":3,"x":-0.3,"t":3.38},{"r":2,"c":1,"g":3,"x":-0.12,"t":3.71},{"r":2,"c":1,"g":3,"x":0.07,"t":3.78},{"r":2,"c":1,"g":3,"x":0.31,"t":4.08},{"r":2,"c":1,"g":3,"x":0.58,"t":4.6},{"r":2,"c":1,"g":3,"x":0.82,"t":4.78},{"r":2,"c":1,"g":3,"x":1.05,"t":4.49},{"r":2,"c":1,"g":3,"x":1.28,"t":3.97},{"r":2,"c":1,"g":3,"x":1.52,"t":3.38},{"r":2,"c":1,"g":3,"x":1.79,"t":3.09},{"r":2,"c":1,"g":3,"x":2.06,"t":3},
{"r":2,"c":1,"g":3,"x":0.69,"t":4.7,"k":"m"},
{"r":2,"c":1,"g":2,"x":-0.74,"t":2},{"r":2,"c":1,"g":2,"x":-0.5,"t":2.09},{"r":2,"c":1,"g":2,"x":-0.3,"t":2.35},{"r":2,"c":1,"g":2,"x":-0.12,"t":2.58},{"r":2,"c":1,"g":2,"x":0.01,"t":2.6},{"r":2,"c":1,"g":2,"x":0.24,"t":2.99},{"r":2,"c":1,"g":2,"x":0.55,"t":3.57},{"r":2,"c":1,"g":2,"x":0.78,"t":3.74},{"r":2,"c":1,"g":2,"x":1.01,"t":3.4},{"r":2,"c":1,"g":2,"x":1.25,"t":2.81},{"r":2,"c":1,"g":2,"x":1.52,"t":2.26},{"r":2,"c":1,"g":2,"x":1.79,"t":2.05},{"r":2,"c":1,"g":2,"x":2.06,"t":2},
{"r":2,"c":1,"g":2,"x":0.62,"t":3.62,"k":"m"},
{"r":2,"c":1,"g":1,"x":-0.74,"t":1},{"r":2,"c":1,"g":1,"x":-0.47,"t":1.17},{"r":2,"c":1,"g":1,"x":-0.2,"t":1.55},{"r":2,"c":1,"g":1,"x":0.11,"t":1.87},{"r":2,"c":1,"g":1,"x":0.38,"t":2.28},{"r":2,"c":1,"g":1,"x":0.65,"t":2.63},{"r":2,"c":1,"g":1,"x":0.82,"t":2.71},{"r":2,"c":1,"g":1,"x":1.05,"t":2.45},{"r":2,"c":1,"g":1,"x":1.32,"t":1.76},{"r":2,"c":1,"g":1,"x":1.59,"t":1.17},{"r":2,"c":1,"g":1,"x":1.82,"t":1.03},{"r":2,"c":1,"g":1,"x":2.06,"t":1},
{"r":2,"c":1,"g":1,"x":0.65,"t":2.63,"k":"m"},
{"r":2,"c":2,"g":3,"x":-0.67,"t":3},{"r":2,"c":2,"g":3,"x":-0.44,"t":3.15},{"r":2,"c":2,"g":3,"x":-0.24,"t":3.44},{"r":2,"c":2,"g":3,"x":-0.11,"t":3.52},{"r":2,"c":2,"g":3,"x":0.07,"t":3.48},{"r":2,"c":2,"g":3,"x":0.3,"t":3.73},{"r":2,"c":2,"g":3,"x":0.57,"t":4.08},{"r":2,"c":2,"g":3,"x":0.77,"t":4.26},{"r":2,"c":2,"g":3,"x":0.93,"t":4.57},{"r":2,"c":2,"g":3,"x":1.1,"t":4.31},{"r":2,"c":2,"g":3,"x":1.33,"t":3.62},{"r":2,"c":2,"g":3,"x":1.58,"t":3.15},{"r":2,"c":2,"g":3,"x":1.87,"t":3},
{"r":2,"c":2,"g":3,"x":0.63,"t":4.12,"k":"m"},
{"r":2,"c":2,"g":2,"x":-0.67,"t":2},{"r":2,"c":2,"g":2,"x":-0.38,"t":2.23},{"r":2,"c":2,"g":2,"x":-0.04,"t":2.58},{"r":2,"c":2,"g":2,"x":0.27,"t":2.87},{"r":2,"c":2,"g":2,"x":0.57,"t":3.22},{"r":2,"c":2,"g":2,"x":0.77,"t":3.63},{"r":2,"c":2,"g":2,"x":0.9,"t":3.77},{"r":2,"c":2,"g":2,"x":1.06,"t":3.51},{"r":2,"c":2,"g":2,"x":1.28,"t":2.81},{"r":2,"c":2,"g":2,"x":1.58,"t":2.17},{"r":2,"c":2,"g":2,"x":1.87,"t":2},
{"r":2,"c":2,"g":2,"x":0.77,"t":3.63,"k":"m"},
{"r":2,"c":2,"g":1,"x":-0.67,"t":1},{"r":2,"c":2,"g":1,"x":-0.38,"t":1.23},{"r":2,"c":2,"g":1,"x":-0.11,"t":1.52},{"r":2,"c":2,"g":1,"x":0.23,"t":1.66},{"r":2,"c":2,"g":1,"x":0.5,"t":1.87},{"r":2,"c":2,"g":1,"x":0.74,"t":2.4},{"r":2,"c":2,"g":1,"x":0.9,"t":2.77},{"r":2,"c":2,"g":1,"x":1.06,"t":2.45},{"r":2,"c":2,"g":1,"x":1.31,"t":1.76},{"r":2,"c":2,"g":1,"x":1.58,"t":1.17},{"r":2,"c":2,"g":1,"x":1.87,"t":1},
{"r":2,"c":2,"g":1,"x":0.71,"t":2.3,"k":"m"},
{"r":2,"c":3,"g":3,"x":-0.66,"t":3},{"r":2,"c":3,"g":3,"x":-0.36,"t":3.13},{"r":2,"c":3,"g":3,"x":-0.12,"t":3.35},{"r":2,"c":3,"g":3,"x":0.07,"t":3.41},{"r":2,"c":3,"g":3,"x":0.24,"t":3.38},{"r":2,"c":3,"g":3,"x":0.44,"t":3.73},{"r":2,"c":3,"g":3,"x":0.65,"t":4.31},{"r":2,"c":3,"g":3,"x":0.89,"t":4.78},{"r":2,"c":3,"g":3,"x":1.12,"t":4.31},{"r":2,"c":3,"g":3,"x":1.32,"t":3.62},{"r":2,"c":3,"g":3,"x":1.55,"t":3.15},{"r":2,"c":3,"g":3,"x":1.83,"t":3},
{"r":2,"c":3,"g":3,"x":0.75,"t":4.55,"k":"m"},
{"r":2,"c":3,"g":2,"x":-0.66,"t":2},{"r":2,"c":3,"g":2,"x":-0.43,"t":2.09},{"r":2,"c":3,"g":2,"x":-0.26,"t":2.2},{"r":2,"c":3,"g":2,"x":-0.12,"t":2.12},{"r":2,"c":3,"g":2,"x":0.11,"t":2.52},{"r":2,"c":3,"g":2,"x":0.38,"t":2.99},{"r":2,"c":3,"g":2,"x":0.65,"t":3.34},{"r":2,"c":3,"g":2,"x":0.98,"t":3.53},{"r":2,"c":3,"g":2,"x":1.23,"t":3.16},{"r":2,"c":3,"g":2,"x":1.45,"t":2.47},{"r":2,"c":3,"g":2,"x":1.66,"t":2.09},{"r":2,"c":3,"g":2,"x":1.83,"t":2},
{"r":2,"c":3,"g":2,"x":0.73,"t":3.4,"k":"m"},
{"r":2,"c":3,"g":1,"x":-0.66,"t":1},{"r":2,"c":3,"g":1,"x":-0.43,"t":1.12},{"r":2,"c":3,"g":1,"x":-0.2,"t":1.35},{"r":2,"c":3,"g":1,"x":-0.03,"t":1.27},{"r":2,"c":3,"g":1,"x":0.24,"t":1.64},{"r":2,"c":3,"g":1,"x":0.58,"t":2.1},{"r":2,"c":3,"g":1,"x":0.92,"t":2.59},{"r":2,"c":3,"g":1,"x":1.19,"t":2.16},{"r":2,"c":3,"g":1,"x":1.39,"t":1.41},{"r":2,"c":3,"g":1,"x":1.6,"t":1.08},{"r":2,"c":3,"g":1,"x":1.83,"t":1},
{"r":2,"c":3,"g":1,"x":0.74,"t":2.35,"k":"m"},
{"r":2,"c":4,"g":3,"x":-0.92,"t":3},{"r":2,"c":4,"g":3,"x":-0.65,"t":3.09},{"r":2,"c":4,"g":3,"x":-0.38,"t":3.33},{"r":2,"c":4,"g":3,"x":-0.11,"t":3.67},{"r":2,"c":4,"g":3,"x":0.09,"t":3.83},{"r":2,"c":4,"g":3,"x":0.36,"t":4.14},{"r":2,"c":4,"g":3,"x":0.7,"t":4.6},{"r":2,"c":4,"g":3,"x":1,"t":4.78},{"r":2,"c":4,"g":3,"x":1.24,"t":4.43},{"r":2,"c":4,"g":3,"x":1.51,"t":3.73},{"r":2,"c":4,"g":3,"x":1.78,"t":3.17},{"r":2,"c":4,"g":3,"x":2.11,"t":3},
{"r":2,"c":4,"g":3,"x":0.86,"t":4.72,"k":"m"},
{"r":2,"c":4,"g":2,"x":-0.92,"t":2},{"r":2,"c":4,"g":2,"x":-0.58,"t":2.17},{"r":2,"c":4,"g":2,"x":-0.24,"t":2.41},{"r":2,"c":4,"g":2,"x":0.09,"t":2.49},{"r":2,"c":4,"g":2,"x":0.36,"t":2.81},{"r":2,"c":4,"g":2,"x":0.7,"t":3.4},{"r":2,"c":4,"g":2,"x":1.04,"t":3.74},{"r":2,"c":4,"g":2,"x":1.31,"t":3.4},{"r":2,"c":4,"g":2,"x":1.58,"t":2.58},{"r":2,"c":4,"g":2,"x":1.85,"t":2.09},{"r":2,"c":4,"g":2,"x":2.11,"t":2},
{"r":2,"c":4,"g":2,"x":0.77,"t":3.5,"k":"m"},
{"r":2,"c":4,"g":1,"x":-0.92,"t":1},{"r":2,"c":4,"g":1,"x":-0.58,"t":1.17},{"r":2,"c":4,"g":1,"x":-0.24,"t":1.55},{"r":2,"c":4,"g":1,"x":0.09,"t":1.81},{"r":2,"c":4,"g":1,"x":0.49,"t":1.97},{"r":2,"c":4,"g":1,"x":0.84,"t":2.16},{"r":2,"c":4,"g":1,"x":1.17,"t":2.48},{"r":2,"c":4,"g":1,"x":1.37,"t":2.28},{"r":2,"c":4,"g":1,"x":1.58,"t":1.52},{"r":2,"c":4,"g":1,"x":1.78,"t":1.12},{"r":2,"c":4,"g":1,"x":2.11,"t":1},
{"r":2,"c":4,"g":1,"x":0.73,"t":2.05,"k":"m"},
{"r":3,"c":1,"g":3,"x":-0.57,"t":3},{"r":3,"c":1,"g":3,"x":-0.39,"t":3.24},{"r":3,"c":1,"g":3,"x":-0.23,"t":4},{"r":3,"c":1,"g":3,"x":-0.07,"t":4.5},{"r":3,"c":1,"g":3,"x":0.11,"t":4.38},{"r":3,"c":1,"g":3,"x":0.23,"t":4.31},{"r":3,"c":1,"g":3,"x":0.34,"t":4.27},{"r":3,"c":1,"g":3,"x":0.44,"t":4.17},{"r":3,"c":1,"g":3,"x":0.55,"t":4.06},{"r":3,"c":1,"g":3,"x":0.71,"t":3.48},{"r":3,"c":1,"g":3,"x":0.98,"t":3.09},{"r":3,"c":1,"g":3,"x":1.25,"t":3.06},{"r":3,"c":1,"g":3,"x":1.59,"t":3.09},{"r":3,"c":1,"g":3,"x":1.97,"t":3},
{"r":3,"c":1,"g":3,"x":0.23,"t":4.31,"k":"m"},
{"r":3,"c":1,"g":2,"x":-0.57,"t":2},{"r":3,"c":1,"g":2,"x":-0.39,"t":2.26},{"r":3,"c":1,"g":2,"x":-0.23,"t":3.24},{"r":3,"c":1,"g":2,"x":-0.09,"t":3.83},{"r":3,"c":1,"g":2,"x":0.07,"t":3.59},{"r":3,"c":1,"g":2,"x":0.24,"t":3.3},{"r":3,"c":1,"g":2,"x":0.42,"t":2.9},{"r":3,"c":1,"g":2,"x":0.61,"t":2.37},{"r":3,"c":1,"g":2,"x":0.85,"t":2.1},{"r":3,"c":1,"g":2,"x":1.25,"t":2.05},{"r":3,"c":1,"g":2,"x":1.97,"t":2},
{"r":3,"c":1,"g":2,"x":0.14,"t":3.5,"k":"m"},
{"r":3,"c":1,"g":1,"x":-0.57,"t":1},{"r":3,"c":1,"g":1,"x":-0.43,"t":1.6},{"r":3,"c":1,"g":1,"x":-0.23,"t":2.53},{"r":3,"c":1,"g":1,"x":-0.03,"t":2.85},{"r":3,"c":1,"g":1,"x":0.18,"t":2.79},{"r":3,"c":1,"g":1,"x":0.31,"t":2.71},{"r":3,"c":1,"g":1,"x":0.44,"t":2.59},{"r":3,"c":1,"g":1,"x":0.61,"t":1.95},{"r":3,"c":1,"g":1,"x":0.85,"t":1.26},{"r":3,"c":1,"g":1,"x":1.25,"t":1.12},{"r":3,"c":1,"g":1,"x":1.66,"t":1.07},{"r":3,"c":1,"g":1,"x":1.97,"t":1},
{"r":3,"c":1,"g":1,"x":0.19,"t":2.78,"k":"m"},
{"r":3,"c":2,"g":3,"x":-0.67,"t":3},{"r":3,"c":2,"g":3,"x":-0.38,"t":3.24},{"r":3,"c":2,"g":3,"x":-0.11,"t":3.56},{"r":3,"c":2,"g":3,"x":0.09,"t":3.62},{"r":3,"c":2,"g":3,"x":0.34,"t":4.06},{"r":3,"c":2,"g":3,"x":0.61,"t":4.81},{"r":3,"c":2,"g":3,"x":0.84,"t":4.47},{"r":3,"c":2,"g":3,"x":1.04,"t":3.71},{"r":3,"c":2,"g":3,"x":1.31,"t":3.19},{"r":3,"c":2,"g":3,"x":1.64,"t":3.03},{"r":3,"c":2,"g":3,"x":2.15,"t":3},
{"r":3,"c":2,"g":3,"x":0.5,"t":4.4,"k":"m"},
{"r":3,"c":2,"g":2,"x":-0.67,"t":2},{"r":3,"c":2,"g":2,"x":-0.38,"t":2.26},{"r":3,"c":2,"g":2,"x":-0.11,"t":2.78},{"r":3,"c":2,"g":2,"x":0.23,"t":3.24},{"r":3,"c":2,"g":2,"x":0.51,"t":3.73},{"r":3,"c":2,"g":2,"x":0.77,"t":3.24},{"r":3,"c":2,"g":2,"x":1.04,"t":2.55},{"r":3,"c":2,"g":2,"x":1.37,"t":2.08},{"r":3,"c":2,"g":2,"x":2.15,"t":2},
{"r":3,"c":2,"g":2,"x":0.46,"t":3.65,"k":"m"},
{"r":3,"c":2,"g":1,"x":-0.67,"t":1},{"r":3,"c":2,"g":1,"x":-0.38,"t":1.37},{"r":3,"c":2,"g":1,"x":-0.11,"t":1.84},{"r":3,"c":2,"g":1,"x":0.23,"t":2.24},{"r":3,"c":2,"g":1,"x":0.53,"t":2.79},{"r":3,"c":2,"g":1,"x":0.77,"t":2.19},{"r":3,"c":2,"g":1,"x":1.04,"t":1.37},{"r":3,"c":2,"g":1,"x":1.44,"t":1.08},{"r":3,"c":2,"g":1,"x":1.84,"t":1.05},{"r":3,"c":2,"g":1,"x":2.15,"t":1},
{"r":3,"c":2,"g":1,"x":0.4,"t":2.55,"k":"m"},
{"r":3,"c":3,"g":3,"x":-0.66,"t":3},{"r":3,"c":3,"g":3,"x":-0.39,"t":3.24},{"r":3,"c":3,"g":3,"x":-0.12,"t":3.57},{"r":3,"c":3,"g":3,"x":0.11,"t":3.42},{"r":3,"c":3,"g":3,"x":0.38,"t":4},{"r":3,"c":3,"g":3,"x":0.58,"t":4.52},{"r":3,"c":3,"g":3,"x":0.71,"t":4.81},{"r":3,"c":3,"g":3,"x":0.92,"t":4.29},{"r":3,"c":3,"g":3,"x":1.12,"t":3.53},{"r":3,"c":3,"g":3,"x":1.39,"t":3.07},{"r":3,"c":3,"g":3,"x":1.66,"t":3},
{"r":3,"c":3,"g":3,"x":0.48,"t":4.3,"k":"m"},
{"r":3,"c":3,"g":2,"x":-0.66,"t":2},{"r":3,"c":3,"g":2,"x":-0.36,"t":2.31},{"r":3,"c":3,"g":2,"x":-0.03,"t":2.72},{"r":3,"c":3,"g":2,"x":0.31,"t":3.19},{"r":3,"c":3,"g":2,"x":0.65,"t":3.42},{"r":3,"c":3,"g":2,"x":0.92,"t":3.13},{"r":3,"c":3,"g":2,"x":1.19,"t":2.43},{"r":3,"c":3,"g":2,"x":1.45,"t":2.05},{"r":3,"c":3,"g":2,"x":1.66,"t":2},
{"r":3,"c":3,"g":2,"x":0.48,"t":3.33,"k":"m"},
{"r":3,"c":3,"g":1,"x":-0.66,"t":1},{"r":3,"c":3,"g":1,"x":-0.36,"t":1.31},{"r":3,"c":3,"g":1,"x":-0.07,"t":1.63},{"r":3,"c":3,"g":1,"x":0.24,"t":1.9},{"r":3,"c":3,"g":1,"x":0.54,"t":2.27},{"r":3,"c":3,"g":1,"x":0.78,"t":2.07},{"r":3,"c":3,"g":1,"x":1.05,"t":1.43},{"r":3,"c":3,"g":1,"x":1.32,"t":1.05},{"r":3,"c":3,"g":1,"x":1.66,"t":1},
{"r":3,"c":3,"g":1,"x":0.48,"t":2.2,"k":"m"},
{"r":3,"c":4,"g":3,"x":-0.78,"t":3},{"r":3,"c":4,"g":3,"x":-0.51,"t":3.42},{"r":3,"c":4,"g":3,"x":-0.31,"t":3.83},{"r":3,"c":4,"g":3,"x":-0.11,"t":3.99},{"r":3,"c":4,"g":3,"x":0.09,"t":3.88},{"r":3,"c":4,"g":3,"x":0.36,"t":4.12},{"r":3,"c":4,"g":3,"x":0.63,"t":4.52},{"r":3,"c":4,"g":3,"x":0.9,"t":4.55},{"r":3,"c":4,"g":3,"x":1.1,"t":4.17},{"r":3,"c":4,"g":3,"x":1.37,"t":3.42},{"r":3,"c":4,"g":3,"x":1.58,"t":3.09},{"r":3,"c":4,"g":3,"x":1.78,"t":3},
{"r":3,"c":4,"g":3,"x":0.53,"t":4.36,"k":"m"},
{"r":3,"c":4,"g":2,"x":-0.78,"t":2},{"r":3,"c":4,"g":2,"x":-0.44,"t":2.43},{"r":3,"c":4,"g":2,"x":-0.11,"t":2.84},{"r":3,"c":4,"g":2,"x":0.23,"t":3.24},{"r":3,"c":4,"g":2,"x":0.63,"t":3.83},{"r":3,"c":4,"g":2,"x":0.9,"t":3.59},{"r":3,"c":4,"g":2,"x":1.17,"t":2.84},{"r":3,"c":4,"g":2,"x":1.44,"t":2.2},{"r":3,"c":4,"g":2,"x":1.78,"t":2},
{"r":3,"c":4,"g":2,"x":0.53,"t":3.68,"k":"m"},
{"r":3,"c":4,"g":1,"x":-0.78,"t":1},{"r":3,"c":4,"g":1,"x":-0.44,"t":1.37},{"r":3,"c":4,"g":1,"x":-0.18,"t":2.01},{"r":3,"c":4,"g":1,"x":0.09,"t":2.28},{"r":3,"c":4,"g":1,"x":0.34,"t":2.36},{"r":3,"c":4,"g":1,"x":0.7,"t":2.69},{"r":3,"c":4,"g":1,"x":0.97,"t":2.42},{"r":3,"c":4,"g":1,"x":1.24,"t":1.6},{"r":3,"c":4,"g":1,"x":1.51,"t":1.08},{"r":3,"c":4,"g":1,"x":1.78,"t":1},
{"r":3,"c":4,"g":1,"x":0.5,"t":2.5,"k":"m"},
{"r":4,"c":1,"g":3,"x":-0.59,"t":3},{"r":4,"c":1,"g":3,"x":-0.3,"t":3.14},{"r":4,"c":1,"g":3,"x":-0.07,"t":3.34},{"r":4,"c":1,"g":3,"x":0.18,"t":3.41},{"r":4,"c":1,"g":3,"x":0.42,"t":3.9},{"r":4,"c":1,"g":3,"x":0.58,"t":4.48},{"r":4,"c":1,"g":3,"x":0.75,"t":4.77},{"r":4,"c":1,"g":3,"x":0.96,"t":4.24},{"r":4,"c":1,"g":3,"x":1.14,"t":3.55},{"r":4,"c":1,"g":3,"x":1.39,"t":3.26},{"r":4,"c":1,"g":3,"x":1.72,"t":3.16},{"r":4,"c":1,"g":3,"x":2.12,"t":3.06},{"r":4,"c":1,"g":3,"x":2.57,"t":3},
{"r":4,"c":1,"g":3,"x":0.65,"t":4.6,"k":"m"},
{"r":4,"c":1,"g":2,"x":-0.59,"t":2},{"r":4,"c":1,"g":2,"x":-0.36,"t":2.17},{"r":4,"c":1,"g":2,"x":-0.19,"t":2.41},{"r":4,"c":1,"g":2,"x":0.01,"t":2.29},{"r":4,"c":1,"g":2,"x":0.31,"t":2.79},{"r":4,"c":1,"g":2,"x":0.51,"t":3.49},{"r":4,"c":1,"g":2,"x":0.69,"t":3.74},{"r":4,"c":1,"g":2,"x":0.92,"t":3.14},{"r":4,"c":1,"g":2,"x":1.19,"t":2.5},{"r":4,"c":1,"g":2,"x":1.52,"t":2.27},{"r":4,"c":1,"g":2,"x":1.93,"t":2.13},{"r":4,"c":1,"g":2,"x":2.33,"t":2.03},{"r":4,"c":1,"g":2,"x":2.57,"t":2},
{"r":4,"c":1,"g":2,"x":0.61,"t":3.62,"k":"m"},
{"r":4,"c":1,"g":1,"x":-0.59,"t":1},{"r":4,"c":1,"g":1,"x":-0.36,"t":1.16},{"r":4,"c":1,"g":1,"x":-0.19,"t":1.4},{"r":4,"c":1,"g":1,"x":0.01,"t":1.45},{"r":4,"c":1,"g":1,"x":0.31,"t":1.98},{"r":4,"c":1,"g":1,"x":0.65,"t":2.56},{"r":4,"c":1,"g":1,"x":0.92,"t":2.21},{"r":4,"c":1,"g":1,"x":1.14,"t":1.51},{"r":4,"c":1,"g":1,"x":1.45,"t":1.22},{"r":4,"c":1,"g":1,"x":1.86,"t":1.06},{"r":4,"c":1,"g":1,"x":2.2,"t":1},
{"r":4,"c":1,"g":1,"x":0.61,"t":2.5,"k":"m"},
{"r":4,"c":2,"g":3,"x":-0.67,"t":3},{"r":4,"c":2,"g":3,"x":-0.38,"t":3.14},{"r":4,"c":2,"g":3,"x":-0.04,"t":3.26},{"r":4,"c":2,"g":3,"x":0.3,"t":3.31},{"r":4,"c":2,"g":3,"x":0.53,"t":3.66},{"r":4,"c":2,"g":3,"x":0.77,"t":4.77},{"r":4,"c":2,"g":3,"x":0.97,"t":4.36},{"r":4,"c":2,"g":3,"x":1.2,"t":3.55},{"r":4,"c":2,"g":3,"x":1.51,"t":3.14},{"r":4,"c":2,"g":3,"x":1.85,"t":3.08},{"r":4,"c":2,"g":3,"x":2.01,"t":3.13},{"r":4,"c":2,"g":3,"x":2.25,"t":3.02},{"r":4,"c":2,"g":3,"x":2.59,"t":3},
{"r":4,"c":2,"g":3,"x":0.7,"t":4.45,"k":"m"},
{"r":4,"c":2,"g":2,"x":-0.67,"t":2},{"r":4,"c":2,"g":2,"x":-0.38,"t":2.17},{"r":4,"c":2,"g":2,"x":-0.04,"t":2.24},{"r":4,"c":2,"g":2,"x":0.2,"t":2.36},{"r":4,"c":2,"g":2,"x":0.43,"t":3.08},{"r":4,"c":2,"g":2,"x":0.63,"t":3.69},{"r":4,"c":2,"g":2,"x":0.88,"t":3.37},{"r":4,"c":2,"g":2,"x":1.14,"t":2.62},{"r":4,"c":2,"g":2,"x":1.44,"t":2.21},{"r":4,"c":2,"g":2,"x":1.85,"t":2.08},{"r":4,"c":2,"g":2,"x":2.25,"t":2.03},{"r":4,"c":2,"g":2,"x":2.59,"t":2},
{"r":4,"c":2,"g":2,"x":0.7,"t":3.6,"k":"m"},
{"r":4,"c":2,"g":1,"x":-0.67,"t":1},{"r":4,"c":2,"g":1,"x":-0.38,"t":1.16},{"r":4,"c":2,"g":1,"x":-0.11,"t":1.28},{"r":4,"c":2,"g":1,"x":0.2,"t":1.92},{"r":4,"c":2,"g":1,"x":0.5,"t":2.56},{"r":4,"c":2,"g":1,"x":0.77,"t":2.27},{"r":4,"c":2,"g":1,"x":1.01,"t":1.57},{"r":4,"c":2,"g":1,"x":1.31,"t":1.16},{"r":4,"c":2,"g":1,"x":1.71,"t":1.06},{"r":4,"c":2,"g":1,"x":2.25,"t":1},
{"r":4,"c":2,"g":1,"x":0.66,"t":2.38,"k":"m"},
{"r":4,"c":3,"g":3,"x":-0.63,"t":3},{"r":4,"c":3,"g":3,"x":-0.3,"t":3.17},{"r":4,"c":3,"g":3,"x":0,"t":3.34},{"r":4,"c":3,"g":3,"x":0.24,"t":3.66},{"r":4,"c":3,"g":3,"x":0.51,"t":4.48},{"r":4,"c":3,"g":3,"x":0.69,"t":4.77},{"r":4,"c":3,"g":3,"x":0.92,"t":4.3},{"r":4,"c":3,"g":3,"x":1.19,"t":3.66},{"r":4,"c":3,"g":3,"x":1.45,"t":3.26},{"r":4,"c":3,"g":3,"x":1.72,"t":3.06},{"r":4,"c":3,"g":3,"x":1.97,"t":3},
{"r":4,"c":3,"g":3,"x":0.67,"t":4.75,"k":"m"},
{"r":4,"c":3,"g":2,"x":-0.63,"t":2},{"r":4,"c":3,"g":2,"x":-0.3,"t":2.21},{"r":4,"c":3,"g":2,"x":0.04,"t":2.62},{"r":4,"c":3,"g":2,"x":0.31,"t":3.2},{"r":4,"c":3,"g":2,"x":0.55,"t":3.45},{"r":4,"c":3,"g":2,"x":0.75,"t":3.51},{"r":4,"c":3,"g":2,"x":0.98,"t":3.08},{"r":4,"c":3,"g":2,"x":1.25,"t":2.5},{"r":4,"c":3,"g":2,"x":1.58,"t":2.15},{"r":4,"c":3,"g":2,"x":1.97,"t":2},
{"r":4,"c":3,"g":2,"x":0.65,"t":3.48,"k":"m"},
{"r":4,"c":3,"g":1,"x":-0.63,"t":1},{"r":4,"c":3,"g":1,"x":-0.34,"t":1.16},{"r":4,"c":3,"g":1,"x":-0.03,"t":1.45},{"r":4,"c":3,"g":1,"x":0.24,"t":1.92},{"r":4,"c":3,"g":1,"x":0.65,"t":2.76},{"r":4,"c":3,"g":1,"x":0.92,"t":2.15},{"r":4,"c":3,"g":1,"x":1.14,"t":1.63},{"r":4,"c":3,"g":1,"x":1.39,"t":1.28},{"r":4,"c":3,"g":1,"x":1.72,"t":1.05},{"r":4,"c":3,"g":1,"x":1.97,"t":1},
{"r":4,"c":3,"g":1,"x":0.67,"t":2.7,"k":"m"},
{"r":4,"c":4,"g":3,"x":-0.82,"t":3},{"r":4,"c":4,"g":3,"x":-0.44,"t":3.08},{"r":4,"c":4,"g":3,"x":-0.11,"t":3.31},{"r":4,"c":4,"g":3,"x":0.23,"t":3.9},{"r":4,"c":4,"g":3,"x":0.5,"t":4.53},{"r":4,"c":4,"g":3,"x":0.66,"t":4.73},{"r":4,"c":4,"g":3,"x":0.9,"t":4.48},{"r":4,"c":4,"g":3,"x":1.24,"t":3.95},{"r":4,"c":4,"g":3,"x":1.44,"t":3.49},{"r":4,"c":4,"g":3,"x":1.64,"t":3.26},{"r":4,"c":4,"g":3,"x":1.91,"t":3.08},{"r":4,"c":4,"g":3,"x":2.25,"t":3},
{"r":4,"c":4,"g":3,"x":0.84,"t":4.55,"k":"m"},
{"r":4,"c":4,"g":2,"x":-0.82,"t":2},{"r":4,"c":4,"g":2,"x":-0.51,"t":2.09},{"r":4,"c":4,"g":2,"x":-0.31,"t":2.17},{"r":4,"c":4,"g":2,"x":-0.11,"t":2.13},{"r":4,"c":4,"g":2,"x":0.23,"t":2.62},{"r":4,"c":4,"g":2,"x":0.57,"t":3.37},{"r":4,"c":4,"g":2,"x":0.84,"t":3.78},{"r":4,"c":4,"g":2,"x":1.1,"t":3.37},{"r":4,"c":4,"g":2,"x":1.37,"t":2.56},{"r":4,"c":4,"g":2,"x":1.71,"t":2.13},{"r":4,"c":4,"g":2,"x":2.25,"t":2},
{"r":4,"c":4,"g":2,"x":0.84,"t":3.78,"k":"m"},
{"r":4,"c":4,"g":1,"x":-0.82,"t":1},{"r":4,"c":4,"g":1,"x":-0.44,"t":1.13},{"r":4,"c":4,"g":1,"x":-0.11,"t":1.34},{"r":4,"c":4,"g":1,"x":0.23,"t":1.8},{"r":4,"c":4,"g":1,"x":0.57,"t":2.38},{"r":4,"c":4,"g":1,"x":0.84,"t":2.67},{"r":4,"c":4,"g":1,"x":1.1,"t":2.33},{"r":4,"c":4,"g":1,"x":1.37,"t":1.69},{"r":4,"c":4,"g":1,"x":1.64,"t":1.28},{"r":4,"c":4,"g":1,"x":1.98,"t":1.06},{"r":4,"c":4,"g":1,"x":2.25,"t":1},
{"r":4,"c":4,"g":1,"x":0.84,"t":2.67,"k":"m"},
{"r":1,"c":1,"k":"t","l":"Inner"},{"r":1,"c":2,"k":"t","l":"Middle"},{"r":1,"c":3,"k":"t","l":"Outer"},{"r":1,"c":4,"k":"t","l":"Deep"},
{"r":1,"c":4,"k":"r","l":"MCAV"},{"r":2,"c":4,"k":"r","l":"PAST"},{"r":3,"c":4,"k":"r","l":"SSID"},{"r":4,"c":4,"k":"r","l":"Non Target"}
]},
"spacing":17,
"hconcat":[
{"data":{"name":"a"},
"title":{"text":"A","anchor":"start","frame":"bounds","fontSize":16,"fontWeight":"bold","color":"#000","dx":-5,"offset":3},
"bounds":"flush",
"spacing":{"row":5.8,"column":5.7},
"facet":{"row":{"field":"r","type":"ordinal","header":{"labels":false,"title":"Kernel Density Estimate","titlePadding":-8}},"column":{"field":"c","type":"ordinal","header":{"labels":false,"title":"Colony Diameter (cm)","titleOrient":"bottom","titlePadding":-8}}},
"spec":{"width":118.3,"height":116.5,
"layer":[
{"transform":[{"filter":"datum.g==3&&!datum.k"}],"mark":{"type":"area","opacity":0.5},"encoding":{"x":{"field":"x","type":"quantitative","scale":{"domain":[-15.5,105],"nice":false,"zero":false},"axis":{"values":[0,50,100],"labelOverlap":false}},"y":{"field":"t","type":"quantitative","scale":{"domain":[0.91,5.02],"nice":false,"zero":false},"axis":{"values":[1,2,3]}},"y2":{"field":"g"},"color":{"field":"r","type":"nominal","scale":{"domain":[1,2,3,4],"range":["#EB6F6B","#7CAE00","#0FAFB7","#AC7CC0"]},"legend":null}}},
{"transform":[{"filter":"datum.g==3&&!datum.k"}],"mark":{"type":"line","color":"#000","strokeWidth":1.1},"encoding":{"x":{"field":"x","type":"quantitative"},"y":{"field":"t","type":"quantitative"}}},
{"transform":[{"filter":"datum.g==3&&datum.k=='m'"}],"mark":{"type":"rule","color":"#000","strokeWidth":1},"encoding":{"x":{"field":"x","type":"quantitative"},"y":{"field":"g","type":"quantitative"},"y2":{"field":"t"}}},
{"transform":[{"filter":"datum.g==2&&!datum.k"}],"mark":{"type":"area","opacity":0.5},"encoding":{"x":{"field":"x","type":"quantitative"},"y":{"field":"t","type":"quantitative"},"y2":{"field":"g"},"color":{"field":"r","type":"nominal","legend":null}}},
{"transform":[{"filter":"datum.g==2&&!datum.k"}],"mark":{"type":"line","color":"#000","strokeWidth":1.1},"encoding":{"x":{"field":"x","type":"quantitative"},"y":{"field":"t","type":"quantitative"}}},
{"transform":[{"filter":"datum.g==2&&datum.k=='m'"}],"mark":{"type":"rule","color":"#000","strokeWidth":1},"encoding":{"x":{"field":"x","type":"quantitative"},"y":{"field":"g","type":"quantitative"},"y2":{"field":"t"}}},
{"transform":[{"filter":"datum.g==1&&!datum.k"}],"mark":{"type":"area","opacity":0.5},"encoding":{"x":{"field":"x","type":"quantitative"},"y":{"field":"t","type":"quantitative"},"y2":{"field":"g"},"color":{"field":"r","type":"nominal","legend":null}}},
{"transform":[{"filter":"datum.g==1&&!datum.k"}],"mark":{"type":"line","color":"#000","strokeWidth":1.1},"encoding":{"x":{"field":"x","type":"quantitative"},"y":{"field":"t","type":"quantitative"}}},
{"transform":[{"filter":"datum.g==1&&datum.k=='m'"}],"mark":{"type":"rule","color":"#000","strokeWidth":1},"encoding":{"x":{"field":"x","type":"quantitative"},"y":{"field":"g","type":"quantitative"},"y2":{"field":"t"}}},
{"transform":[{"filter":"datum.g==1&&datum.k=='m'"}],"mark":{"type":"rule","color":"#000","strokeWidth":1,"strokeDash":[4,3]},"encoding":{"x":{"datum":10,"type":"quantitative"},"y":{"datum":0.91,"type":"quantitative"},"y2":{"datum":5.02}}},
{"transform":[{"filter":"datum.k=='t'"}],"mark":{"type":"rect","fill":"#d3d3d3","stroke":"#9e9e9e","strokeWidth":1},"encoding":{"x":{"datum":-15.5,"type":"quantitative"},"x2":{"datum":105},"y":{"datum":5.02,"type":"quantitative"},"y2":{"datum":5.644}}},
{"transform":[{"filter":"datum.k=='t'"}],"mark":{"type":"text","fontWeight":"bold","fontSize":9.2,"color":"#1a1a1a"},"encoding":{"x":{"datum":44.75,"type":"quantitative"},"y":{"datum":5.332,"type":"quantitative"},"text":{"field":"l"}}},
{"transform":[{"filter":"datum.k=='r'"}],"mark":{"type":"rect","fill":"#d3d3d3","stroke":"#9e9e9e","strokeWidth":1},"encoding":{"x":{"datum":105,"type":"quantitative"},"x2":{"datum":122.3},"y":{"datum":0.91,"type":"quantitative"},"y2":{"datum":5.02}}},
{"transform":[{"filter":"datum.k=='r'"}],"mark":{"type":"text","fontWeight":"bold","fontSize":9.2,"color":"#1a1a1a","angle":90},"encoding":{"x":{"datum":113.65,"type":"quantitative"},"y":{"datum":2.965,"type":"quantitative"},"text":{"field":"l"}}}
]}},
{"data":{"name":"b"},
"title":{"text":"B","anchor":"start","frame":"bounds","fontSize":16,"fontWeight":"bold","color":"#000","dx":-17,"offset":3},
"bounds":"flush",
"spacing":{"row":5.8,"column":5.7},
"facet":{"row":{"field":"r","type":"ordinal","header":{"labels":false,"title":null}},"column":{"field":"c","type":"ordinal","header":{"labels":false,"title":"Log10(Colony Diameter)","titleOrient":"bottom","titlePadding":-8}}},
"spec":{"width":118.3,"height":116.5,
"layer":[
{"transform":[{"filter":"datum.g==3&&!datum.k"}],"mark":{"type":"area","opacity":0.5},"encoding":{"x":{"field":"x","type":"quantitative","scale":{"domain":[-1.32,3.23],"nice":false,"zero":false},"axis":{"values":[-1,0,1,2,3],"labelOverlap":false}},"y":{"field":"t","type":"quantitative","scale":{"domain":[0.91,5.02],"nice":false,"zero":false},"axis":{"values":[1,2,3]}},"y2":{"field":"g"},"color":{"field":"r","type":"nominal","scale":{"domain":[1,2,3,4],"range":["#EB6F6B","#7CAE00","#0FAFB7","#AC7CC0"]},"legend":null}}},
{"transform":[{"filter":"datum.g==3&&!datum.k"}],"mark":{"type":"line","color":"#000","strokeWidth":1.1},"encoding":{"x":{"field":"x","type":"quantitative","axis":{"values":[-1,0,1,2,3],"labelOverlap":false}},"y":{"field":"t","type":"quantitative"}}},
{"transform":[{"filter":"datum.g==3&&datum.k=='m'"}],"mark":{"type":"rule","color":"#000","strokeWidth":1},"encoding":{"x":{"field":"x","type":"quantitative","axis":{"values":[-1,0,1,2,3],"labelOverlap":false}},"y":{"field":"g","type":"quantitative"},"y2":{"field":"t"}}},
{"transform":[{"filter":"datum.g==2&&!datum.k"}],"mark":{"type":"area","opacity":0.5},"encoding":{"x":{"field":"x","type":"quantitative","axis":{"values":[-1,0,1,2,3],"labelOverlap":false}},"y":{"field":"t","type":"quantitative"},"y2":{"field":"g"},"color":{"field":"r","type":"nominal","legend":null}}},
{"transform":[{"filter":"datum.g==2&&!datum.k"}],"mark":{"type":"line","color":"#000","strokeWidth":1.1},"encoding":{"x":{"field":"x","type":"quantitative","axis":{"values":[-1,0,1,2,3],"labelOverlap":false}},"y":{"field":"t","type":"quantitative"}}},
{"transform":[{"filter":"datum.g==2&&datum.k=='m'"}],"mark":{"type":"rule","color":"#000","strokeWidth":1},"encoding":{"x":{"field":"x","type":"quantitative","axis":{"values":[-1,0,1,2,3],"labelOverlap":false}},"y":{"field":"g","type":"quantitative"},"y2":{"field":"t"}}},
{"transform":[{"filter":"datum.g==1&&!datum.k"}],"mark":{"type":"area","opacity":0.5},"encoding":{"x":{"field":"x","type":"quantitative","axis":{"values":[-1,0,1,2,3],"labelOverlap":false}},"y":{"field":"t","type":"quantitative"},"y2":{"field":"g"},"color":{"field":"r","type":"nominal","legend":null}}},
{"transform":[{"filter":"datum.g==1&&!datum.k"}],"mark":{"type":"line","color":"#000","strokeWidth":1.1},"encoding":{"x":{"field":"x","type":"quantitative","axis":{"values":[-1,0,1,2,3],"labelOverlap":false}},"y":{"field":"t","type":"quantitative"}}},
{"transform":[{"filter":"datum.g==1&&datum.k=='m'"}],"mark":{"type":"rule","color":"#000","strokeWidth":1},"encoding":{"x":{"field":"x","type":"quantitative","axis":{"values":[-1,0,1,2,3],"labelOverlap":false}},"y":{"field":"g","type":"quantitative"},"y2":{"field":"t"}}},
{"transform":[{"filter":"datum.k=='t'"}],"mark":{"type":"rect","fill":"#d3d3d3","stroke":"#9e9e9e","strokeWidth":1},"encoding":{"x":{"datum":-1.32,"type":"quantitative","axis":{"values":[-1,0,1,2,3],"labelOverlap":false}},"x2":{"datum":3.23},"y":{"datum":5.02,"type":"quantitative"},"y2":{"datum":5.644}}},
{"transform":[{"filter":"datum.k=='t'"}],"mark":{"type":"text","fontWeight":"bold","fontSize":9.2,"color":"#1a1a1a"},"encoding":{"x":{"datum":0.955,"type":"quantitative","axis":{"values":[-1,0,1,2,3],"labelOverlap":false}},"y":{"datum":5.332,"type":"quantitative"},"text":{"field":"l"}}},
{"transform":[{"filter":"datum.k=='r'"}],"mark":{"type":"rect","fill":"#d3d3d3","stroke":"#9e9e9e","strokeWidth":1},"encoding":{"x":{"datum":3.23,"type":"quantitative","axis":{"values":[-1,0,1,2,3],"labelOverlap":false}},"x2":{"datum":3.883},"y":{"datum":0.91,"type":"quantitative"},"y2":{"datum":5.02}}},
{"transform":[{"filter":"datum.k=='r'"}],"mark":{"type":"text","fontWeight":"bold","fontSize":9.2,"color":"#1a1a1a","angle":90},"encoding":{"x":{"datum":3.557,"type":"quantitative","axis":{"values":[-1,0,1,2,3],"labelOverlap":false}},"y":{"datum":2.965,"type":"quantitative"},"text":{"field":"l"}}}
]}}
]}
